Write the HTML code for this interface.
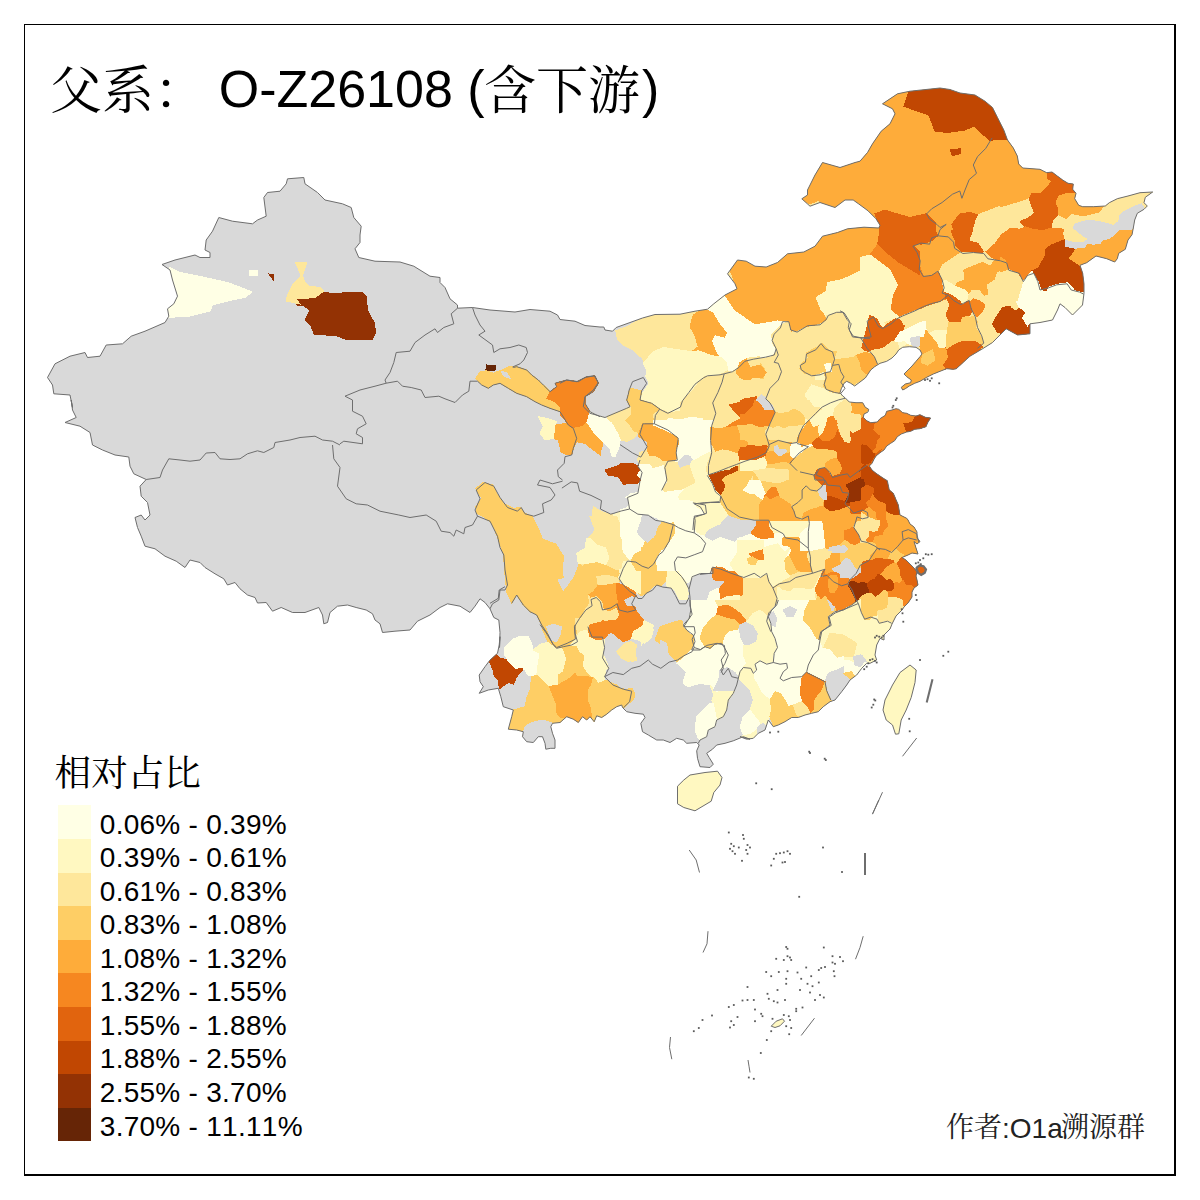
<!DOCTYPE html>
<html><head><meta charset="utf-8"><title>O-Z26108</title>
<style>
html,body{margin:0;padding:0;background:#fff;}
body{width:1200px;height:1200px;overflow:hidden;position:relative;font-family:"Liberation Sans",sans-serif;}
svg{position:absolute;left:0;top:0;}
text{font-family:"Liberation Sans",sans-serif;fill:#000;font-kerning:none;}
.c0{fill:#d9d9d9}.c1{fill:#ffffe5}.c2{fill:#fff8c1}.c3{fill:#fee79b}.c4{fill:#fece65}.c5{fill:#feac3a}
.c6{fill:#f68720}.c7{fill:#e1640e}.c8{fill:#c14702}.c9{fill:#933204}.c10{fill:#662506}
.s0{stroke:#d9d9d9}.s1{stroke:#ffffe5}.s2{stroke:#fff8c1}.s3{stroke:#fee79b}.s4{stroke:#fece65}.s5{stroke:#feac3a}.s6{stroke:#f68720}.s7{stroke:#e1640e}.s8{stroke:#c14702}.s9{stroke:#933204}.s10{stroke:#662506}
.b{fill:none;stroke:#6e6e6e;stroke-width:1;stroke-linejoin:round}
</style></head><body>
<svg width="1200" height="1200" viewBox="0 0 1200 1200">
<rect x="24" y="24" width="1" height="1152" fill="#000"/><rect x="24" y="24" width="1152" height="1" fill="#000"/><rect x="1174" y="24" width="2" height="1152" fill="#000"/><rect x="24" y="1174" width="1152" height="2" fill="#000"/>
<defs><clipPath id="cn">
<polygon points="47.5,377.5 55,363.8 70,356.2 85,352.5 87.5,357.5 100,356.2 106.2,345 122.5,343.8 131.2,336.2 145,331.2 165,322.5 168.8,316.2 167.5,308.8 173.8,303.8 177.5,296.2 172.5,280 170,270 162,264.5 175,260 195,255 200,257.5 210,257.5 210,252.5 205,250 206.2,240 212.5,231.2 218.8,217.5 232.5,221.2 252.5,223.8 257.5,220 266.2,216.2 263.8,197.5 267.5,192.5 280,191.2 286.2,183.8 287.5,178.8 303.8,177.5 305,183.8 317.5,192.5 325,200 342.5,203.8 351.2,207.5 353.8,217.5 361.2,226.2 360,235 360,242.5 355,248.8 358.8,257.5 375,261.2 400,262 413.8,266.2 430,276.2 440,277.5 440,282.5 445,287.5 450,298.8 457.5,305 457.5,308.2 472.5,307.5 490,310 515,312 530,309.5 550,311.2 557.5,315 560,319.5 575,321.2 585,325.5 600,327 603.8,327 605,330 612.5,331.2 616.2,327.5 642.5,318 655,314.5 680,314.2 695,311.2 707.5,309.2 713.8,303.8 725,295 737,288.8 735,283.8 727.5,273.8 737.5,260 746.2,261.2 755,266.2 766.2,267 777.5,262.5 787.5,253.8 803.8,252 815,246.2 822.5,236.2 837.5,232.5 847.5,228.8 864,227.2 878.8,228 880,225.2 876,218.8 868,210.8 858.8,204 853.2,200 845,200 835,207.5 820,202.5 810,206.2 801.8,198.8 807.5,195 807.5,190 815,175 822.5,162.5 840,167.5 855,162.5 860,161.2 867.5,152.5 872.5,143.8 881.2,131.2 890,123.8 895,113.8 892.5,108.8 882.5,103.8 897.5,93.8 910,91.2 940,88 950,89.5 960,93 975,95 985,101.2 992.5,107.5 997.5,117.5 1003.8,130 1007.5,140 1013.3,148 1017.3,156 1018.7,164 1022.7,168 1032,168.7 1040,169.3 1046.7,172.7 1052,172 1057.3,176 1062.7,180 1068,183.3 1073.3,184 1072.7,189.3 1076,193.3 1074.7,198.7 1078.7,205.3 1082.7,206.7 1093.3,206.7 1105.3,206 1109.3,202.7 1117.3,198.7 1128,196 1140,192.7 1152.7,192 1145.3,197.3 1144,202.7 1147.3,206 1144,209.3 1137.3,213.3 1134.7,220 1133.3,228 1132,234.7 1128,240 1125.3,249.3 1118.7,253.3 1117.3,258.7 1114.7,262 1106.7,258.7 1096,256 1086.7,262.7 1080,265.3 1082.7,273.3 1084,284 1084,293.3 1082.5,305 1072.5,315 1065,307.5 1060,303.8 1057.5,310 1052.5,320 1040,322.5 1030,323.8 1030,323.8 1030,333.8 1017.5,335 1006.2,328.8 1000,335 992.5,342.5 982.5,348.8 970,356.2 956.2,368.8 953.3,369.3 946.7,368.7 940,371.3 933.3,374 926.7,377.3 920,381.3 914.7,383.3 909.3,386 905.3,388.7 902.7,390 901.3,387.3 905.3,384 910.7,382.7 911.3,380 906.7,376.7 904,374 908,370 912,366 916,361.3 920,356.7 922,354 920,350 916,347.3 909.3,346.7 902.7,347.3 898.7,350 896,354 892,358 886.7,361.3 880,363.3 874.7,366.7 870.7,370 868,374 865.3,378 860,382 854.7,386 850.7,383.3 846.7,381.3 844,383.3 841.3,388.7 840,392.7 842.7,396 845.3,398 849.3,402 856,402.7 862.7,402.7 865.3,407.3 868.7,409.3 868,412 864,414 863.3,417.3 866.7,420.7 870.7,422.7 877.3,422 880,418.7 885.3,415.3 886.7,411.3 892,410 896,408.7 898.7,409.3 902.7,412.7 906.7,413.3 910.7,415.3 916,416 920,414.7 925.3,417.3 930.7,418 928,422 926,426.7 920,428.7 914.7,429.3 910.7,431.3 906.7,432 901.3,434 897.3,436.7 894.7,440.7 890.7,443.3 886.7,446 884,450 880,452.7 876,456 874,459.3 872,463.3 869.3,466 872,470 876,473.3 880,476 884,478.7 887.3,480.7 889.3,490 893.3,493.3 898.3,505 900,515 906.7,518.3 908,520 910,524 914,527 917,532 917,538 920,541.5 917,544 914,541.5 916,548 918,554 912,553 908,555 902,557.5 906,560 910,564 914,568 917,572 916,576 917,580 918,585 914,588 912,592 912,597 910,600 908,603 904,607 902,610 899,613 896,616 894,620 892,624 890,629 887,632 884,635 884,640 880,638.3 876.7,645 875,655 876.7,660 870,663.3 866.7,663.3 861.7,668.3 856.7,675 850,680 846.7,685 841.7,691.7 835,700 830,701.7 823.3,706.7 818.3,711.7 811.7,713.3 805,715 798.3,717.5 791.7,717.5 785,721.7 778.3,725 773.3,726.7 768.3,720 765,730 758.3,733.3 753.3,738.3 746.7,739.2 740,736.7 750,739.2 743.3,736.7 733.3,740.8 725,743.3 716.7,745 712.5,749.2 706.7,753.3 709.2,757.5 713.3,764.2 710,767.5 700,766.7 697.5,758.3 696.7,750.8 699.2,745 696.7,742.5 686.7,743.3 683.3,740 676.7,738.3 670,742.5 663.3,740 656.7,740 648.3,735 642.5,731.7 640.8,723.3 645,717.5 643.3,714.2 635,713.3 626.7,711.7 622.5,707.5 621.7,705 616.7,706.7 611.7,710 606.7,714.2 601.7,717.5 596.7,715.8 594.2,721.7 590,716.7 586.7,720 582.5,716.7 578.3,722.5 573.3,719.2 566.7,716.7 560,722.5 552.5,723.3 550.8,726.7 552.5,733.3 555,740 555,748.3 550.8,748.3 545.8,749.2 545,743.3 542.5,736.7 538.3,736.7 533.3,742.5 526.7,741.7 522.5,736.7 523.3,731.7 516.7,730 508.3,729.2 511.7,716.7 513.3,710 503.3,706.7 500.8,696.7 498.3,688.3 488.3,690 479.2,693.3 483.3,686.7 480,681.7 479.2,675 485,666.7 490,660 497.5,653.3 499.2,645 500,636.7 499.5,647.5 500,632.5 498.8,620 493.8,617.5 490,608.8 485,602.5 480,598.8 475,606.2 470,612.5 460,606.2 447.5,603.8 440,607.5 430,615 417.5,621.2 410,630 395,631.2 382.5,632.5 380,623.8 375,620 372.5,613.8 366.2,610 356.2,607.5 347.5,605 337.5,606.2 330,612.5 327.5,622.5 323.8,623.8 322.5,615 318.8,607.5 305,612.5 292.5,612.5 281.2,607.5 272.5,611.2 266.2,602.5 257.5,603 255,597.5 247.5,595 240,588.8 235,582.5 227.5,585 223.8,578.8 215,573.8 205,567.5 200,562.5 190,560 185,567.5 176.2,561.2 165,556.2 155,548.8 145,546.2 141.2,536.2 137.5,527.5 135,517.5 141.2,515 145,520 150,515 147.5,502.5 141.2,496.2 140,486.2 146.2,479.5 133.8,473.8 130,466.2 128.8,457 115,455 102.5,450 92.5,445 90,432.5 80,426.2 65,422.5 76.2,417.5 72.5,410 71.2,400 72.5,407.5 70,395 53.8,393.8 52.5,385"/>
<polygon points="910,665 916.2,670 915,682.5 911.2,697.5 906.2,710 901.2,720 898.8,733.8 895.5,734.2 892.5,725 886.2,720 883,710 885,700 892.5,685 900,672.5"/>
<polygon points="690,775 705,772.5 717.5,771.2 722,777.5 720,785 713.8,792.5 711.2,801.2 695,810.8 683.8,807.5 677.5,803.8 677.5,786.2 683.8,780"/>
</clipPath></defs>
<g shape-rendering="crispEdges">
<polygon class="c0" points="47.5,377.5 55,363.8 70,356.2 85,352.5 87.5,357.5 100,356.2 106.2,345 122.5,343.8 131.2,336.2 145,331.2 165,322.5 168.8,316.2 167.5,308.8 173.8,303.8 177.5,296.2 172.5,280 170,270 162,264.5 175,260 195,255 200,257.5 210,257.5 210,252.5 205,250 206.2,240 212.5,231.2 218.8,217.5 232.5,221.2 252.5,223.8 257.5,220 266.2,216.2 263.8,197.5 267.5,192.5 280,191.2 286.2,183.8 287.5,178.8 303.8,177.5 305,183.8 317.5,192.5 325,200 342.5,203.8 351.2,207.5 353.8,217.5 361.2,226.2 360,235 360,242.5 355,248.8 358.8,257.5 375,261.2 400,262 413.8,266.2 430,276.2 440,277.5 440,282.5 445,287.5 450,298.8 457.5,305 457.5,308.2 472.5,307.5 490,310 515,312 530,309.5 550,311.2 557.5,315 560,319.5 575,321.2 585,325.5 600,327 603.8,327 605,330 612.5,331.2 616.2,327.5 642.5,318 655,314.5 680,314.2 695,311.2 707.5,309.2 713.8,303.8 725,295 737,288.8 735,283.8 727.5,273.8 737.5,260 746.2,261.2 755,266.2 766.2,267 777.5,262.5 787.5,253.8 803.8,252 815,246.2 822.5,236.2 837.5,232.5 847.5,228.8 864,227.2 878.8,228 880,225.2 876,218.8 868,210.8 858.8,204 853.2,200 845,200 835,207.5 820,202.5 810,206.2 801.8,198.8 807.5,195 807.5,190 815,175 822.5,162.5 840,167.5 855,162.5 860,161.2 867.5,152.5 872.5,143.8 881.2,131.2 890,123.8 895,113.8 892.5,108.8 882.5,103.8 897.5,93.8 910,91.2 940,88 950,89.5 960,93 975,95 985,101.2 992.5,107.5 997.5,117.5 1003.8,130 1007.5,140 1013.3,148 1017.3,156 1018.7,164 1022.7,168 1032,168.7 1040,169.3 1046.7,172.7 1052,172 1057.3,176 1062.7,180 1068,183.3 1073.3,184 1072.7,189.3 1076,193.3 1074.7,198.7 1078.7,205.3 1082.7,206.7 1093.3,206.7 1105.3,206 1109.3,202.7 1117.3,198.7 1128,196 1140,192.7 1152.7,192 1145.3,197.3 1144,202.7 1147.3,206 1144,209.3 1137.3,213.3 1134.7,220 1133.3,228 1132,234.7 1128,240 1125.3,249.3 1118.7,253.3 1117.3,258.7 1114.7,262 1106.7,258.7 1096,256 1086.7,262.7 1080,265.3 1082.7,273.3 1084,284 1084,293.3 1082.5,305 1072.5,315 1065,307.5 1060,303.8 1057.5,310 1052.5,320 1040,322.5 1030,323.8 1030,323.8 1030,333.8 1017.5,335 1006.2,328.8 1000,335 992.5,342.5 982.5,348.8 970,356.2 956.2,368.8 953.3,369.3 946.7,368.7 940,371.3 933.3,374 926.7,377.3 920,381.3 914.7,383.3 909.3,386 905.3,388.7 902.7,390 901.3,387.3 905.3,384 910.7,382.7 911.3,380 906.7,376.7 904,374 908,370 912,366 916,361.3 920,356.7 922,354 920,350 916,347.3 909.3,346.7 902.7,347.3 898.7,350 896,354 892,358 886.7,361.3 880,363.3 874.7,366.7 870.7,370 868,374 865.3,378 860,382 854.7,386 850.7,383.3 846.7,381.3 844,383.3 841.3,388.7 840,392.7 842.7,396 845.3,398 849.3,402 856,402.7 862.7,402.7 865.3,407.3 868.7,409.3 868,412 864,414 863.3,417.3 866.7,420.7 870.7,422.7 877.3,422 880,418.7 885.3,415.3 886.7,411.3 892,410 896,408.7 898.7,409.3 902.7,412.7 906.7,413.3 910.7,415.3 916,416 920,414.7 925.3,417.3 930.7,418 928,422 926,426.7 920,428.7 914.7,429.3 910.7,431.3 906.7,432 901.3,434 897.3,436.7 894.7,440.7 890.7,443.3 886.7,446 884,450 880,452.7 876,456 874,459.3 872,463.3 869.3,466 872,470 876,473.3 880,476 884,478.7 887.3,480.7 889.3,490 893.3,493.3 898.3,505 900,515 906.7,518.3 908,520 910,524 914,527 917,532 917,538 920,541.5 917,544 914,541.5 916,548 918,554 912,553 908,555 902,557.5 906,560 910,564 914,568 917,572 916,576 917,580 918,585 914,588 912,592 912,597 910,600 908,603 904,607 902,610 899,613 896,616 894,620 892,624 890,629 887,632 884,635 884,640 880,638.3 876.7,645 875,655 876.7,660 870,663.3 866.7,663.3 861.7,668.3 856.7,675 850,680 846.7,685 841.7,691.7 835,700 830,701.7 823.3,706.7 818.3,711.7 811.7,713.3 805,715 798.3,717.5 791.7,717.5 785,721.7 778.3,725 773.3,726.7 768.3,720 765,730 758.3,733.3 753.3,738.3 746.7,739.2 740,736.7 750,739.2 743.3,736.7 733.3,740.8 725,743.3 716.7,745 712.5,749.2 706.7,753.3 709.2,757.5 713.3,764.2 710,767.5 700,766.7 697.5,758.3 696.7,750.8 699.2,745 696.7,742.5 686.7,743.3 683.3,740 676.7,738.3 670,742.5 663.3,740 656.7,740 648.3,735 642.5,731.7 640.8,723.3 645,717.5 643.3,714.2 635,713.3 626.7,711.7 622.5,707.5 621.7,705 616.7,706.7 611.7,710 606.7,714.2 601.7,717.5 596.7,715.8 594.2,721.7 590,716.7 586.7,720 582.5,716.7 578.3,722.5 573.3,719.2 566.7,716.7 560,722.5 552.5,723.3 550.8,726.7 552.5,733.3 555,740 555,748.3 550.8,748.3 545.8,749.2 545,743.3 542.5,736.7 538.3,736.7 533.3,742.5 526.7,741.7 522.5,736.7 523.3,731.7 516.7,730 508.3,729.2 511.7,716.7 513.3,710 503.3,706.7 500.8,696.7 498.3,688.3 488.3,690 479.2,693.3 483.3,686.7 480,681.7 479.2,675 485,666.7 490,660 497.5,653.3 499.2,645 500,636.7 499.5,647.5 500,632.5 498.8,620 493.8,617.5 490,608.8 485,602.5 480,598.8 475,606.2 470,612.5 460,606.2 447.5,603.8 440,607.5 430,615 417.5,621.2 410,630 395,631.2 382.5,632.5 380,623.8 375,620 372.5,613.8 366.2,610 356.2,607.5 347.5,605 337.5,606.2 330,612.5 327.5,622.5 323.8,623.8 322.5,615 318.8,607.5 305,612.5 292.5,612.5 281.2,607.5 272.5,611.2 266.2,602.5 257.5,603 255,597.5 247.5,595 240,588.8 235,582.5 227.5,585 223.8,578.8 215,573.8 205,567.5 200,562.5 190,560 185,567.5 176.2,561.2 165,556.2 155,548.8 145,546.2 141.2,536.2 137.5,527.5 135,517.5 141.2,515 145,520 150,515 147.5,502.5 141.2,496.2 140,486.2 146.2,479.5 133.8,473.8 130,466.2 128.8,457 115,455 102.5,450 92.5,445 90,432.5 80,426.2 65,422.5 76.2,417.5 72.5,410 71.2,400 72.5,407.5 70,395 53.8,393.8 52.5,385"/>
<polygon class="c0" points="910,665 916.2,670 915,682.5 911.2,697.5 906.2,710 901.2,720 898.8,733.8 895.5,734.2 892.5,725 886.2,720 883,710 885,700 892.5,685 900,672.5"/>
<polygon class="c0" points="690,775 705,772.5 717.5,771.2 722,777.5 720,785 713.8,792.5 711.2,801.2 695,810.8 683.8,807.5 677.5,803.8 677.5,786.2 683.8,780"/>
<g clip-path="url(#cn)">
<polygon class="c3 s3" points="622,335 700,310 740,285 720,270 760,255 820,240 795,200 830,150 900,80 1000,85 1170,185 1095,335 965,365 970,445 905,485 930,545 925,600 885,640 860,640 840,600 800,580 780,600 760,560 700,560 690,520 660,500 650,460 645,420 652,380 642,358"/>
<polygon class="c6 s6" points="855,425 965,425 965,470 900,480 890,505 855,505"/>
<polygon class="c8 s8" points="880,490 900,490 905,520 885,520"/>
<polygon class="c6 s6" points="890,520 930,520 930,640 880,640"/>
<polygon class="c5 s5" points="895,375 965,345 965,372 895,400"/>
<polygon class="c9 s9" points="306,297.5 325,292.5 337.5,294 344,292.5 362.5,292.5 366,296 367.5,310 374,322.5 376,332.5 372.5,339 345,339 337.5,336 314,334 311,326 305,320 310,310 304,306 297,305 296,299"/>
<polygon class="c3 s3" points="295,262 307,262 302.5,276 305,282.5 309,286 320,287.5 324,291 315,297.5 296,299 300,304 286,301 287.5,295 292.5,285 300,277.5 300,272.5"/>
<polygon class="c1 s1" points="170,267.5 180,272.5 205,277.5 227.5,282.5 245,289 252,292 245,297.5 227.5,301 212.5,305 210,311 190,316 160,318 160,300 165,280"/>
<polygon class="c1 s1" points="249.5,270 257.5,270 257.5,275.5 249.5,275.5"/>
<polygon class="c9 s9" points="269,274 273,274.5 273,279.5"/>
<polygon class="c10 s10" points="486,365 495.5,365 495,370 486,370"/>
<polygon class="c3 s3" points="615.8,330.8 626.7,326.7 640,319.2 655,315 676.7,313.3 693.3,311.7 690,326.7 695,335.8 698.3,346.7 691.7,351.7 680,350 663.3,347.5 653.3,351.7 648.3,357.5 640,356.7 633.3,350 623.3,345 617.5,339.2"/>
<polygon class="c5 s5" points="693.3,315 706.7,306.7 713.3,311.7 720,323.3 727.5,332.5 725,338.3 715,335.8 712.5,340.8 716.7,351.7 720.8,357.5 710,355 698.3,350.8 691.7,351.7 698.3,346.7 695,335.8 690,326.7"/>
<polygon class="c1 s1" points="706.7,309.2 718.3,293.3 733.3,300 743.3,313.3 760,323.3 760,356.7 746.7,358.3 739.2,366.7 731.7,372.5 727.5,370.8 726.7,363.3 720.8,357.5 716.7,351.7 712.5,340.8 715,335.8 725,338.3 727.5,332.5 720,323.3 713.3,311.7"/>
<polygon class="c2 s2" points="648.3,357.5 653.3,351.7 663.3,347.5 680,350 691.7,351.7 698.3,350.8 710,355 720.8,357.5 726.7,363.3 727.5,370.8 723.3,373.3 716.7,375.8 705,376.7 698.3,383.3 691.7,391.7 683.3,400 680.8,406.7 680,411.7 668.3,412.5 660,409.2 651.7,403.3 640,400 643.3,391.7 649.2,383.3 645.8,376.7 646.7,370 643.3,363.3"/>
<polygon class="c4 s4" points="629.2,390 631.7,388.3 638.3,390 641.7,390.8 640,400 651.7,403.3 660,409.2 653.3,415 653.3,423.3 642.5,424.2 641.7,429.2 637.5,433.3 633.3,431.7 630,426.7 626.7,423.3 624.2,420 630,415 630,406.7 626.7,400 628.3,394.2"/>
<polygon class="c3 s3" points="606.7,416.7 626.7,408.3 630,406.7 630,415 624.2,420 626.7,423.3 630,426.7 633.3,431.7 637.5,433.3 635,438.3 626.7,441.7 621.7,443.3 617.5,433.3 611.7,423.3"/>
<polygon class="c3 s3" points="638.3,460.8 640,453.3 646.7,450 650.8,455.8 661.7,458.3 662.5,466.7 653.3,465 640,464.2"/>
<polygon class="c5 s5" points="642.5,424.2 653.3,423.3 660,428.3 670,433.3 678.3,438.3 679.2,445 675.8,450 677.5,460 668.3,460.8 661.7,458.3 650.8,455.8 646.7,450 646.7,443.3 640,440 638.3,435 641.7,429.2"/>
<polygon class="c3 s3" points="660,409.2 668.3,412.5 680,411.7 680.8,406.7 683.3,400 691.7,391.7 698.3,383.3 705,376.7 716.7,375.8 723.3,373.3 720,383.3 717.5,393.3 711.7,400 713.3,408.3 716.7,415 712.5,421.7 710,426.7 705,423.3 696.7,416.7 686.7,418.3 676.7,420 670,418.3 663.3,421.7 660,425 655,423.3 653.3,415"/>
<polygon class="c1 s1" points="660,425 663.3,421.7 670,418.3 676.7,420 686.7,418.3 696.7,416.7 705,423.3 710,426.7 711.7,438.3 712.5,450 710,460 708.3,466.7 701.7,460 691.7,456.7 683.3,455 677.5,460 675.8,450 679.2,445 678.3,438.3 670,433.3"/>
<polygon class="c3 s3" points="723.3,373.3 727.5,370.8 731.7,372.5 739.2,366.7 746.7,358.3 760,356.7 760,396.7 743.3,400 730,405 740,413.3 746.7,416.7 735,425 728.3,429.2 716.7,428.3 710.8,430 710,426.7 712.5,421.7 716.7,415 713.3,408.3 711.7,400 717.5,393.3 720,383.3"/>
<polygon class="c7 s7" points="730,405 743.3,400 758.3,397.5 755,406.7 750,408.3 748.3,416.7 740,413.3"/>
<polygon class="c5 s5" points="710.8,430 716.7,428.3 728.3,429.2 735,425 746.7,416.7 738.3,428.3 741.7,436.7 748.3,441.7 746.7,446.7 738.3,450 736.7,455 726.7,450 718.3,451.7 712.5,450 711.7,438.3"/>
<polygon class="c6 s6" points="735,425 746.7,416.7 748.3,416.7 750,408.3 755,406.7 760,406.7 760,426.7 748.3,425 738.3,428.3"/>
<polygon class="c3 s3" points="712.5,450 718.3,451.7 726.7,450 736.7,455 739.2,461.7 736.7,466.7 725,470.8 710,474.2 706.7,473.3 708.3,466.7 710,460"/>
<polygon class="c8 s8" points="708.3,475 725,470.8 736.7,466.7 737.5,471.7 726.7,477.5 723.3,483.3 725.8,488.3 721.7,495.8 716.7,491.7 712.5,488.3 711.7,481.7"/>
<polygon class="c7 s7" points="738.3,450 746.7,446.7 760,446.7 760,460 746.7,462.5 739.2,461.7 736.7,455"/>
<polygon class="c4 s4" points="738.3,428.3 748.3,425 760,426.7 760,446.7 746.7,446.7 748.3,441.7 741.7,436.7"/>
<polygon class="c6 s6" points="560,383.3 566.7,380 578.3,381.7 585,377.5 594.2,375.8 598.3,382.5 593.3,390 585,396.7 583.3,406.7 590,413.3 586.7,425 573.3,427.5 568.3,423.3 560,415"/>
<polygon class="c5 s5" points="560,424.2 568.3,423.3 573.3,427.5 586.7,425 593.3,433.3 603.3,441.7 600,454.2 593.3,450 585,443.3 576.7,441.7 571.7,450 566.7,455 560,451.7"/>
<polygon class="c1 s1" points="590,413.3 605,417.5 611.7,423.3 617.5,433.3 621.7,443.3 619.2,446.7 615,456.7 611.7,455.8 610,448.3 603.3,441.7 593.3,433.3 586.7,425"/>
<polygon class="c8 s8" points="605,470 615,466.7 623.3,463.3 633.3,464.2 640,466.7 638.3,473.3 641.7,479.2 638.3,483.3 623.3,484.2 618.3,476.7 608.3,475"/>
<polygon class="c1 s1" points="640,466.7 653.3,465 662.5,466.7 666.7,470 665,483.3 661.7,491.7 663.3,500 640,500 638.3,483.3 641.7,479.2 638.3,473.3"/>
<polygon class="c3 s3" points="666.7,470 677.5,460 683.3,455 691.7,456.7 701.7,460 708.3,466.7 706.7,473.3 708.3,475 711.7,481.7 712.5,488.3 716.7,491.7 721.7,495.8 720,500 663.3,500 661.7,491.7 665,483.3"/>
<polygon class="c0 s0" points="676.7,464.2 683.3,456.7 691.7,457.5 688.3,465 681.7,469.2"/>
<polygon class="c5 s5" points="760,300 816.7,300 821.7,306.7 825,316.7 823.3,321.7 815,325 808.3,325 803.3,328.3 796.7,331.7 790.8,330 790,320.8 783.3,319.2 775,321.7 760,320.8"/>
<polygon class="c1 s1" points="760,320.8 775,321.7 783.3,319.2 786.7,321.7 778.3,327.5 771.7,335 772.5,343.3 776.7,350 770,356.7 760,357.5"/>
<polygon class="c2 s2" points="816.7,300 890,300 893.3,308.3 898.3,316.7 891.7,320 883.3,328.3 876.7,321.7 873.3,315.8 868.3,318.3 869.2,330 866.7,338.3 853.3,336.7 848.3,330 851.7,323.3 846.7,316.7 841.7,311.7 835,311.7 826.7,315.8 825,316.7 821.7,306.7"/>
<polygon class="c6 s6" points="890,300 948.3,300 943.3,303.3 935,306.7 923.3,306.7 916.7,311.7 906.7,316.7 898.3,316.7 893.3,308.3"/>
<polygon class="c3 s3" points="786.7,321.7 790,320.8 790.8,330 796.7,331.7 803.3,328.3 808.3,325 815,325 823.3,321.7 825,316.7 826.7,315.8 835,311.7 841.7,311.7 846.7,316.7 851.7,323.3 848.3,330 853.3,336.7 866.7,338.3 861.7,347.5 866.7,351.7 856.7,355 853.3,357.5 840,359.2 833.3,360 836.7,351.7 831.7,351.7 826.7,348.3 821.7,343.3 815,348.3 806.7,352.5 808.3,358.3 801.7,363.3 800,368.3 805,373.3 811.7,375 823.3,372.5 825,380 823.3,386.7 826.7,391.7 833.3,393.3 840,390.8 845,398.3 838.3,403.3 830,406.7 823.3,408.3 816.7,415 808.3,420 803.3,426.7 798.3,431.7 796.7,441.7 783.3,443.3 770,440 765,433.3 771.7,426.7 776.7,413.3 771.7,406.7 766.7,396.7 771.7,388.3 776.7,383.3 783.3,378.3 781.7,366.7 773.3,363.3 776.7,356.7 776.7,350 772.5,343.3 771.7,335 778.3,327.5"/>
<polygon class="c4 s4" points="806.7,352.5 815,348.3 821.7,343.3 826.7,348.3 831.7,351.7 836.7,351.7 833.3,360 833.3,366.7 830,371.7 825,371.7 823.3,372.5 811.7,375 805,373.3 800,368.3 801.7,363.3 808.3,358.3"/>
<polygon class="c4 s4" points="833.3,360 840,359.2 838.3,363.3 841.7,366.7 840,371.7 845,376.7 843.3,381.7 846.7,382.5 843.3,386.7 840,390.8 833.3,393.3 826.7,391.7 823.3,386.7 825,380 823.3,372.5 825,371.7 830,371.7 833.3,366.7"/>
<polygon class="c1 s1" points="824.7,364.2 830.8,363.3 831.3,371.7 826.7,372"/>
<polygon class="c4 s4" points="840,359.2 853.3,357.5 856.7,355 860,361.7 861.7,370 868.3,375 863.3,380 855,383.3 853.3,385.8 846.7,382.5 843.3,381.7 845,376.7 840,371.7 841.7,366.7 838.3,363.3"/>
<polygon class="c5 s5" points="856.7,355 866.7,351.7 873.3,353.3 876.7,360 878.3,365 871.7,368.3 868.3,375 861.7,370 860,361.7"/>
<polygon class="c2 s2" points="815,376.7 823.3,372.5 825,380 823.3,386.7 826.7,391.7 833.3,393.3 840,390.8 845,398.3 838.3,403.3 830,406.7 823.3,408.3 816.7,415 811.7,406.7 805,400 806.7,393.3 810,386.7 815,383.3"/>
<polygon class="c7 s7" points="868.3,318.3 873.3,315.8 876.7,321.7 883.3,328.3 891.7,320 898.3,316.7 905,325 896.7,333.3 891.7,340 881.7,343.3 875,348.3 866.7,351.7 861.7,347.5 866.7,338.3 869.2,330"/>
<polygon class="c3 s3" points="866.7,351.7 875,348.3 881.7,343.3 891.7,340 898.3,341.7 900,348.3 893.3,355 886.7,360 878.3,365 876.7,360 873.3,353.3"/>
<polygon class="c2 s2" points="891.7,340 896.7,333.3 905,325 910,323.3 925,321.7 926.7,328.3 920,335 911.7,338.3 906.7,343.3 900,348.3 898.3,341.7"/>
<polygon class="c0 s0" points="910,338.3 920,335 925,341.7 920,346.7 913.3,345"/>
<polygon class="c3 s3" points="898.3,316.7 906.7,316.7 916.7,311.7 923.3,306.7 935,306.7 943.3,303.3 945,313.3 948.3,320 936.7,321.7 925,321.7 910,323.3 905,325"/>
<polygon class="c3 s3" points="925,321.7 948.3,320 950,330 943.3,333.3 941.7,343.3 936.7,345 933.3,338.3 926.7,333.3"/>
<polygon class="c5 s5" points="920,346.7 925,341.7 926.7,333.3 933.3,338.3 936.7,345 941.7,343.3 946.7,348.3 948.3,356.7 943.3,365 931.7,368.3 921.7,375 913.3,383.3 906.7,390 901.7,388.3 910,378.3 905,373.3 913.3,366.7 920,356.7 921.7,350"/>
<polygon class="c7 s7" points="943.3,303.3 960,300 960,321.7 948.3,320 945,313.3"/>
<polygon class="c4 s4" points="948.3,320 960,321.7 960,346.7 950,345 946.7,346.7 950,333.3"/>
<polygon class="c7 s7" points="946.7,346.7 960,346.7 960,365 943.3,365 948.3,356.7"/>
<polygon class="c2 s2" points="815,416.7 823.3,409.2 833.3,406.7 831.7,415 826.7,416.7 823.3,426.7 818.3,433.3 810,431.7 800,431.7 808.3,420"/>
<polygon class="c5 s5" points="800,431.7 810,431.7 818.3,433.3 816.7,441.7 810,445 801.7,448.3 797.5,441.7"/>
<polygon class="c3 s3" points="833.3,406.7 844.2,400 850,403.3 846.7,413.3 848.3,416.7 841.7,426.7 838.3,416.7 831.7,415"/>
<polygon class="c5 s5" points="850,403.3 860,403.3 866.7,408.3 863.3,415 860,420 853.3,423.3 848.3,416.7 846.7,413.3"/>
<polygon class="c6 s6" points="826.7,416.7 831.7,415 838.3,416.7 841.7,426.7 845,438.3 838.3,441.7 830,438.3 823.3,441.7 818.3,433.3 823.3,426.7"/>
<polygon class="c7 s7" points="848.3,416.7 853.3,423.3 860,420 863.3,415 873.3,423.3 876.7,430 880,438.3 876.7,450 868.3,460 860,465 853.3,473.3 846.7,476.7 840,466.7 836.7,456.7 838.3,450 846.7,446.7 853.3,446.7 850,433.3 845,426.7"/>
<polygon class="c3 s3" points="838.3,416.7 848.3,416.7 845,426.7 850,433.3 853.3,446.7 846.7,446.7 843.3,436.7 841.7,426.7"/>
<polygon class="c6 s6" points="873.3,423.3 881.7,416.7 891.7,410 898.3,408.3 906.7,415 916.7,415 905,425 898.3,433.3 890,440 883.3,446.7 880,438.3 876.7,430"/>
<polygon class="c8 s8" points="903.3,423.3 916.7,415 930,417.5 926.7,428.3 918.3,428.3 910,426.7"/>
<polygon class="c7 s7" points="880,438.3 883.3,446.7 876.7,455 870,464.2 868.3,460 876.7,450"/>
<polygon class="c8 s8" points="858.3,450 863.3,445 870,450 868.3,460 860,465"/>
<polygon class="c7 s7" points="813.3,441.7 823.3,441.7 830,438.3 838.3,441.7 838.3,450 836.7,456.7 830,453.3 821.7,450 815,448.3"/>
<polygon class="c4 s4" points="790,465 801.7,448.3 810,445 815,448.3 821.7,450 830,453.3 836.7,456.7 840,466.7 833.3,475 826.7,470 818.3,468.3 815,475 801.7,475 796.7,470"/>
<polygon class="c7 s7" points="840,466.7 846.7,476.7 853.3,473.3 860,465 868.3,465 861.7,475 853.3,480 846.7,481.7 838.3,476.7 833.3,475"/>
<polygon class="c7 s7" points="816.7,470 826.7,470 833.3,475 838.3,476.7 831.7,483.3 825,480 818.3,478.3"/>
<polygon class="c8 s8" points="853.3,480 861.7,475 868.3,465 873.3,473.3 883.3,480 891.7,500 866.7,500 863.3,483.3"/>
<polygon class="c7 s7" points="815,475 818.3,478.3 825,480 831.7,483.3 838.3,476.7 846.7,481.7 853.3,480 863.3,483.3 850,485 846.7,500 826.7,500 823.3,486.7"/>
<polygon class="c9 s9" points="846.7,485 863.3,480 866.7,483.3 863.3,490 856.7,500 848.3,500"/>
<polygon class="c4 s4" points="776.7,413.3 783.3,415 796.7,413.3 805,416.7 808.3,420 803.3,426.7 798.3,431.7 796.7,441.7 783.3,443.3 770,440 765,433.3 771.7,426.7"/>
<polygon class="c4 s4" points="765,433.3 770,440 783.3,443.3 796.7,441.7 799.2,446.7 790,465 780,466.7 770,468.3 760,466.7 760,456.7 766.7,450"/>
<polygon class="c0 s0" points="775,446.7 783.3,445 785,451.7 778.3,455"/>
<polygon class="c1 s1" points="790.8,443.3 798.3,442.5 800,450 795.8,458.3 790.8,456.7"/>
<polygon class="c6 s6" points="760,406.7 771.7,406.7 776.7,413.3 771.7,426.7 765,433.3 760,431.7"/>
<polygon class="c0 s0" points="760,395 766.7,396.7 771.7,406.7 760,406.7"/>
<polygon class="c4 s4" points="760,363.3 765,370 763.3,378.3 760,378.3"/>
<polygon class="c5 s5" points="725,295 737,288.8 730,270 737.5,255 755,262.5 777.5,260 787.5,251.2 803.8,249.5 815,243.8 822.5,233.8 847.5,226.2 865,223.8 880,226.2 905,210 880,185 845,197.5 835,205 820,200 810,203.8 800,198.8 805,190 815,170 822.5,160 905,135 930,210 930,265 880,245 872.5,252.5 867.5,258.8 862.5,270 850,276.2 840,280 827.5,282.5 826.2,291.2 816.2,297.5 821.2,310 826.2,320 815,325 800,327.5 791.2,331.2 788.8,321.2 777.5,320 755,323.8 735,310"/>
<polygon class="c2 s2" points="867.5,258.8 880,260 900,300 895,320 870,317.5 862.5,335 852.5,336.2 848.8,322.5 843.8,312.5 837.5,311.2 826.2,315 821.2,310 816.2,297.5 826.2,291.2 827.5,282.5 840,280 850,276.2 862.5,270"/>
<polygon class="c5 s5" points="800,150 810,100 900,70 1010,90 1030,165 960,225 880,265 835,240"/>
<polygon class="c5 s5" points="740,362.5 746.2,358.8 750,367.5 760,365 766.2,372.5 762.5,377.5 752.5,377.5 747.5,381.2 740,377.5 736.2,372.5"/>
<polygon class="c5 s5" points="860,161.2 867.5,152.5 872.5,143.8 881.2,131.2 890,123.8 895,113.8 892.5,108.8 882.5,103.8 897.5,93.8 910,91.2 903.8,106.2 917.5,111.2 928.8,115 935,131.2 947.5,132.5 965,130 973.8,126.2 985,136.2 990,141.2 982.5,150 976.2,161.2 977.5,175 968.8,180 963.8,197.5 960,192.5 942.5,202.5 926.2,213.8 910,217.5 892.5,212.5 885,210 875,213.8 860,205"/>
<polygon class="c8 s8" points="910,88.8 940,85.5 950,87 960,90.5 975,92.5 987.5,98.8 995,107.5 1000,117.5 1006.2,130 1010,140 990,141.2 985,136.2 973.8,126.2 965,130 947.5,132.5 935,131.2 928.8,115 917.5,111.2 903.8,106.2"/>
<polygon class="c8 s8" points="950,150 960,148.8 960,153.8 952.5,155.5"/>
<polygon class="c5 s5" points="990,141.2 1010,140 1017.5,150 1021.2,161.2 1030,166.2 1045,168.8 1052.5,180 1045,187.5 1035,193.8 1030,200 1022.5,198.8 1010,205 1000,206.2 977.5,215 970,212.5 960,213.8 945,223.8 935,222.5 926.2,213.8 942.5,202.5 960,192.5 963.8,197.5 968.8,180 977.5,175 976.2,161.2 982.5,150"/>
<polygon class="c7 s7" points="1045,168.8 1057.5,172.5 1075,181.2 1077.5,192.5 1065,195 1057.5,200 1057.5,212.5 1055,222.5 1045,230 1032.5,228.8 1020,222.5 1030,217.5 1035,210 1030,200 1035,193.8 1045,187.5 1052.5,180"/>
<polygon class="c5 s5" points="1057.5,200 1065,195 1077.5,192.5 1080,203.8 1100,203.8 1095,212.5 1080,215 1070,217.5 1060,220 1055,222.5 1057.5,212.5"/>
<polygon class="c3 s3" points="1080,203.8 1100,203.8 1110,198.8 1125,195 1140,191.2 1155,190 1147.5,200 1150,206.2 1142.5,215 1137.5,225 1133.8,232.5 1120,230 1107.5,240 1097.5,242.5 1085,245 1075,248.8 1065,245 1062.5,235 1055,222.5 1060,220 1070,217.5 1080,215 1095,212.5"/>
<polygon class="c0 s0" points="1075,225 1085,222.5 1100,222.5 1120,215 1135,210 1142.5,210 1137.5,220 1132.5,230 1120,230 1107.5,240 1097.5,242.5 1085,245 1075,248.8 1065,245 1063.8,240 1072.5,237.5"/>
<polygon class="c5 s5" points="1067.5,255 1075,248.8 1085,245 1097.5,242.5 1107.5,240 1120,230 1133.8,232.5 1127.5,245 1120,253.8 1117.5,263.8 1100,260 1090,265 1080,267.5 1075,260"/>
<polygon class="c8 s8" points="1032.5,270 1045,262.5 1046.2,250 1057.5,242.5 1063.8,242.5 1067.5,255 1075,260 1080,265 1086.2,277.5 1087.5,293.8 1075,290 1067.5,282.5 1057.5,285 1047.5,287.5 1042.5,292.5 1037.5,280"/>
<polygon class="c6 s6" points="985,255 992.5,245 1002.5,232.5 1020,230 1032.5,228.8 1045,230 1055,222.5 1062.5,235 1063.8,242.5 1057.5,242.5 1046.2,250 1045,262.5 1032.5,270 1025,280 1017.5,270 1007.5,267.5 1000,257.5 992.5,257.5"/>
<polygon class="c3 s3" points="970,237.5 975,220 977.5,215 1000,206.2 1010,205 1022.5,198.8 1030,200 1035,210 1030,217.5 1020,222.5 1020,230 1002.5,232.5 992.5,245 985,250 982.5,242.5"/>
<polygon class="c7 s7" points="951.2,225 960,213.8 970,212.5 977.5,215 975,220 970,237.5 982.5,242.5 985,250 977.5,252.5 965,250 955,240"/>
<polygon class="c5 s5" points="912.5,245 926.2,242.5 935,237.5 935,230 945,223.8 951.2,225 955,240 965,250 957.5,255 947.5,262.5 940,270 927.5,277.5 922.5,277.5 920,265 920,252.5"/>
<polygon class="c7 s7" points="875,213.8 885,210 892.5,212.5 910,217.5 926.2,213.8 935,222.5 935,230 935,237.5 926.2,242.5 912.5,245 920,252.5 920,265 922.5,277.5 910,270 897.5,262.5 885,252.5 877.5,245 880,230"/>
<polygon class="c6 s6" points="870,255 877.5,245 885,252.5 897.5,262.5 910,270 922.5,277.5 927.5,277.5 940,270 942.5,282.5 945,292.5 942.5,302.5 925,307.5 915,312.5 900,317.5 890,310 892.5,295 897.5,285 890,270"/>
<polygon class="c2 s2" points="860,257.5 870,255 890,270 897.5,285 892.5,295 890,310 900,317.5 885,322.5 875,320 870,315 860,320"/>
<polygon class="c3 s3" points="940,270 947.5,262.5 957.5,255 965,250 977.5,252.5 985,255 992.5,257.5 1000,257.5 997.5,270 987.5,277.5 990,287.5 982.5,295 970,290 965,300 955,290 945,292.5 942.5,282.5"/>
<polygon class="c5 s5" points="965,270 977.5,262.5 992.5,265 997.5,270 987.5,277.5 977.5,282.5 967.5,280"/>
<polygon class="c2 s2" points="942.5,282.5 955,285 965,300 960,305 947.5,295"/>
<polygon class="c3 s3" points="987.5,277.5 997.5,270 1007.5,267.5 1017.5,270 1025,280 1020,290 1017.5,300 1010,307.5 1000,305 990,302.5 982.5,295 990,287.5"/>
<polygon class="c1 s1" points="1017.5,300 1020,290 1025,280 1032.5,270 1037.5,280 1042.5,292.5 1047.5,287.5 1057.5,285 1067.5,282.5 1075,290 1087.5,293.8 1085,305 1072.5,317.5 1065,310 1060,306.2 1057.5,310 1052.5,322.5 1040,325 1030,326.2 1022.5,310 1015,307.5"/>
<polygon class="c8 s8" points="992.5,322.5 1000,317.5 1005,307.5 1010,307.5 1015,313.8 1022.5,310 1026.2,313.8 1022.5,320 1030,323.8 1032.5,337.5 1022.5,337.5 1010,331.2 1000,337.5"/>
<polygon class="c3 s3" points="975,320 982.5,310 982.5,295 990,302.5 1000,305 1010,307.5 1005,307.5 1000,317.5 992.5,322.5 1000,337.5 995,342.5 985,346.2 980,332.5"/>
<polygon class="c7 s7" points="945,292.5 955,290 965,300 970,290 972.5,305 970,310 965,320 957.5,322.5 947.5,317.5 945,307.5"/>
<polygon class="c6 s6" points="970,290 982.5,295 982.5,310 975,320 965,320 970,310 972.5,305"/>
<polygon class="c4 s4" points="947.5,320 957.5,322.5 965,320 975,320 980,332.5 985,346.2 980,350 970,355 960,347.5 947.5,350 945,335"/>
<polygon class="c7 s7" points="947.5,350 960,347.5 970,355 960,365 952.5,372.5 945,370"/>
<polygon class="c3 s3" points="900,317.5 915,312.5 925,307.5 942.5,302.5 945,307.5 947.5,317.5 945,335 947.5,350 935,352.5 925,345 917.5,342.5 910,345 902.5,335 890,340 885,322.5"/>
<polygon class="c1 s1" points="897.5,335 922.5,322.5 927.5,335 910,345"/>
<polygon class="c0 s0" points="910,338.8 921.2,336.2 922.5,345 913.8,347.5"/>
<polygon class="c7 s7" points="862.5,345 870,315 875,320 885,335 900,320 903.8,325 892.5,340 882.5,347.5 867.5,350"/>
<polygon class="c6 s6" points="900,296.7 945,296.7 945,303.3 933.3,306.7 916.7,310 900,316.7"/>
<polygon class="c3 s3" points="900,316.7 916.7,310 933.3,306.7 945,303.3 947.5,308.3 944.2,315 950,321.7 948.3,333.3 938.3,330 926.7,333.3 921.7,321.7 905,330 900,330"/>
<polygon class="c1 s1" points="900,330 905,330 921.7,321.7 926.7,326.7 926.7,333.3 921.7,335.8 910,338.3 900,341.7 895,341.7 895,330"/>
<polygon class="c0 s0" points="910,338.3 921.7,335.8 924.2,343.3 916.7,346.7 911.7,344.2"/>
<polygon class="c2 s2" points="926.7,333.3 938.3,330 948.3,333.3 948.3,343.3 945,348.3 938.3,349.2 936.7,341.7 928.3,338.3"/>
<polygon class="c7 s7" points="945,296.7 958.3,296.7 968.3,303.3 973.3,316.7 961.7,321.7 950,321.7 944.2,315 947.5,308.3"/>
<polygon class="c6 s6" points="968.3,296.7 983.3,296.7 985,306.7 980,315 973.3,311.7"/>
<polygon class="c4 s4" points="950,321.7 961.7,321.7 973.3,316.7 978.3,321.7 985,340 981.7,344.2 970,340.8 955,342.5 945,348.3 948.3,343.3 948.3,333.3"/>
<polygon class="c7 s7" points="945,348.3 955,342.5 970,340.8 981.7,344.2 983.3,346.7 966.7,357.5 957.5,369.2 943.3,370 946.7,356.7"/>
<polygon class="c3 s3" points="983.3,296.7 1015,296.7 1020,306.7 1008.3,307.5 1000,315 993.3,325 1000,333.3 990,345 983.3,347.5 985,340 978.3,321.7 980,315 985,306.7"/>
<polygon class="c8 s8" points="992.5,325 1000,315 1005,307.5 1015,309.2 1021.7,307.5 1025.8,312.5 1023.3,316.7 1028.3,325 1032.5,330.8 1030,336.7 1016.7,335.8 1010,334.2 1005,327.5 1000,332.5"/>
<polygon class="c1 s1" points="1015,296.7 1086.7,296.7 1080,305 1074.2,315.8 1066.7,309.2 1060,304.2 1057.5,314.2 1048.3,318.3 1043.3,323.3 1030,324.2 1025.8,312.5 1021.7,307.5 1020,306.7"/>
<polygon class="c5 s5" points="921.7,333.3 928.3,338.3 936.7,341.7 938.3,349.2 945,348.3 946.7,356.7 943.3,370 933.3,374.2 916.7,384.2 903.3,390.8 900,387.5 910,377.5 903.3,373.3 920,357.5 922.5,353.3 924.2,343.3"/>
<polygon class="c4 s4" points="921.7,355 933.3,350 935,360 926.7,364.2 921.7,361.7"/>
<polygon class="c7 s7" points="900,325 904.2,325.8 903.3,330 900,330.8"/>
<polygon class="c6 s6" points="896.7,411.7 906.7,412.5 918.3,414.2 913.3,421.7 903.3,424.2 906.7,431.7 896.7,435"/>
<polygon class="c8 s8" points="903.3,424.2 913.3,421.7 918.3,414.2 930.8,416.7 927.5,429.2 916.7,430 906.7,431.7"/>
<polygon class="c1 s1" points="628.3,496.7 638.3,495 640,480 663.3,480 661.7,490 676.7,493.3 686.7,490 693.3,503.3 700,508.3 705,513.3 696.7,515 693.3,521.7 695,533.3 688.3,531.7 675,523.3 666.7,523.3 658.3,521.7 650,515 641.7,513.3 630,510"/>
<polygon class="c3 s3" points="661.7,480 696.7,480 693.3,486.7 676.7,493.3 661.7,490"/>
<polygon class="c2 s2" points="693.3,486.7 710,480 720,501.7 693.3,503.3 686.7,490 676.7,493.3"/>
<polygon class="c8 s8" points="710,480 723.3,480 725.8,488.3 721.7,495 716.7,490"/>
<polygon class="c4 s4" points="723.3,495 725.8,488.3 743.3,495 760,493.3 760,518.3 746.7,520 736.7,516.7 726.7,510 720,501.7"/>
<polygon class="c2 s2" points="693.3,503.3 720,501.7 726.7,510 736.7,516.7 726.7,520 720,530 706.7,535 700,536.7 695,533.3 693.3,521.7 696.7,515 705,513.3 700,508.3"/>
<polygon class="c0 s0" points="720,530 726.7,520 736.7,516.7 746.7,520 756.7,521.7 751.7,535 740,538.3 726.7,536.7 710,537.5 706.7,535"/>
<polygon class="c6 s6" points="751.7,535 756.7,521.7 760,521.7 760,538.3 755,537.5"/>
<polygon class="c1 s1" points="675,523.3 688.3,531.7 695,533.3 700,536.7 705,541.7 705,548.3 698.3,551.7 691.7,556.7 685,555.8 676.7,559.2 668.3,563.3 660,558.3 666.7,550 668.3,543.3 673.3,535 671.7,528.3"/>
<polygon class="c1 s1" points="700,536.7 726.7,536.7 740,538.3 736.7,550 743.3,558.3 741.7,570 733.3,570.8 725,568.3 715,566.7 710,573.3 696.7,575 691.7,580 686.7,583.3 683.3,578.3 676.7,570 675,560 685,555.8 691.7,556.7 698.3,551.7 705,548.3 705,541.7"/>
<polygon class="c2 s2" points="736.7,550 751.7,543.3 760,543.3 760,580 743.3,578.3 741.7,570 743.3,558.3"/>
<polygon class="c6 s6" points="750,553.3 760,551.7 760,558.3 751.7,560"/>
<polygon class="c4 s4" points="746.7,560 753.3,558.3 760,560 760,565 750,565"/>
<polygon class="c6 s6" points="711.7,568.3 716.7,566.7 726.7,570 736.7,573.3 743.3,578.3 741.7,595 726.7,596.7 720,600 718.3,588.3 725,580 720,573.3"/>
<polygon class="c0 s0" points="691.7,580 696.7,575 710,573.3 715,566.7 720,573.3 725,580 718.3,588.3 710,591.7 706.7,601.7 703.3,611.7 693.3,613.3 690,603.3 688.3,593.3"/>
<polygon class="c1 s1" points="706.7,601.7 710,591.7 718.3,588.3 720,600 715,611.7 710,621.7 700,630 693.3,630 685,626.7 683.3,623.3 693.3,613.3 703.3,611.7"/>
<polygon class="c2 s2" points="720,600 726.7,596.7 741.7,595 760,596.7 760,610 745,613.3 736.7,608.3 725,606.7 716.7,611.7"/>
<polygon class="c6 s6" points="716.7,611.7 725,606.7 736.7,608.3 745,613.3 746.7,621.7 740,623.3 731.7,618.3 725,615 718.3,616.7"/>
<polygon class="c4 s4" points="700,630 710,621.7 718.3,616.7 725,615 731.7,618.3 740,623.3 736.7,630 726.7,635 720,643.3 715,646.7 706.7,651.7 701.7,643.3"/>
<polygon class="c0 s0" points="740,623.3 746.7,621.7 760,620 760,646.7 745,646.7 740,640 736.7,630"/>
<polygon class="c1 s1" points="693.3,630 700,630 701.7,643.3 706.7,651.7 715,646.7 720,643.3 726.7,635 736.7,630 740,640 745,646.7 760,646.7 760,680 676.7,680 676.7,663.3 686.7,656.7 693.3,648.3 691.7,636.7"/>
<polygon class="c0 s0" points="720,670 736.7,668.3 741.7,680 720,680"/>
<polygon class="c3 s3" points="593.3,506.7 601.7,511.7 613.3,515 616.7,523.3 615,535 623.3,538.3 628.3,546.7 631.7,558.3 623.3,563.3 618.3,570 610,563.3 603.3,563.3 590,561.7 581.7,566.7 576.7,553.3 585,551.7 586.7,535 591.7,521.7"/>
<polygon class="c2 s2" points="613.3,515 621.7,510 630,510 641.7,513.3 640,523.3 636.7,531.7 623.3,538.3 615,535 616.7,523.3"/>
<polygon class="c1 s1" points="623.3,538.3 636.7,531.7 646.7,538.3 643.3,546.7 635,553.3 631.7,558.3 628.3,546.7"/>
<polygon class="c0 s0" points="641.7,513.3 650,515 658.3,521.7 656.7,530 650,536.7 646.7,538.3 636.7,531.7 640,523.3"/>
<polygon class="c4 s4" points="658.3,521.7 666.7,523.3 675,533.3 668.3,543.3 666.7,550 660,558.3 651.7,566.7 643.3,565 640,560 631.7,558.3 635,553.3 643.3,546.7 646.7,538.3 650,536.7 656.7,530"/>
<polygon class="c2 s2" points="623.3,563.3 631.7,558.3 640,560 635,573.3 636.7,583.3 638.3,593.3 633.3,591.7 626.7,586.7 618.3,578.3 618.3,570"/>
<polygon class="c4 s4" points="635,573.3 643.3,565 651.7,566.7 660,560 668.3,563.3 666.7,580 660,586.7 655,586.7 648.3,593.3 641.7,596.7 638.3,593.3 636.7,583.3"/>
<polygon class="c2 s2" points="668.3,563.3 676.7,570 683.3,578.3 686.7,583.3 688.3,593.3 686.7,603.3 678.3,600 673.3,590 666.7,586.7 666.7,580"/>
<polygon class="c0 s0" points="623.3,600 633.3,595 641.7,596.7 648.3,593.3 655,586.7 660,586.7 666.7,586.7 673.3,590 678.3,600 686.7,603.3 690,603.3 693.3,613.3 683.3,623.3 676.7,620 663.3,623.3 653.3,625 643.3,620 636.7,611.7 633.3,606.7 626.7,606.7"/>
<polygon class="c4 s4" points="576.7,553.3 581.7,566.7 590,561.7 603.3,563.3 610,563.3 618.3,570 618.3,578.3 615,583.3 601.7,583.3 593.3,588.3 588.3,595 576.7,596.7 575,613.3 576.7,643.3 560,646.7 560,586.7 566.7,590 570,580 575,566.7"/>
<polygon class="c3 s3" points="595,576.7 603.3,575 610,578.3 613.3,583.3 601.7,583.3 596.7,581.7"/>
<polygon class="c5 s5" points="588.3,595 593.3,588.3 601.7,583.3 615,583.3 616.7,595 617.5,606.7 610,610 603.3,611.7 600,605 601.7,598.3 591.7,598.3"/>
<polygon class="c6 s6" points="615,583.3 618.3,583.3 626.7,586.7 633.3,591.7 636.7,596.7 633.3,595 623.3,600 626.7,606.7 633.3,606.7 636.7,611.7 626.7,615 618.3,615 617.5,606.7 616.7,595"/>
<polygon class="c3 s3" points="591.7,598.3 601.7,598.3 600,605 603.3,611.7 610,610 617.5,606.7 618.3,615 610,621.7 601.7,620 600,625 593.3,623.3 589.2,628.3 590,635 593.3,640 586.7,646.7 576.7,643.3 575,613.3 576.7,596.7 588.3,595"/>
<polygon class="c6 s6" points="589.2,628.3 593.3,623.3 600,625 601.7,620 610,621.7 618.3,615 626.7,615 636.7,611.7 643.3,620 638.3,626.7 633.3,635 631.7,640 623.3,641.7 616.7,636.7 611.7,631.7 608.3,640 593.3,640 590,635"/>
<polygon class="c2 s2" points="576.7,643.3 586.7,646.7 593.3,640 601.7,651.7 600,663.3 593.3,680 585,680 583.3,663.3"/>
<polygon class="c4 s4" points="560,646.7 576.7,643.3 583.3,663.3 585,680 560,680"/>
<polygon class="c4 s4" points="660,626.7 675,620 683.3,623.3 685,626.7 693.3,630 691.7,636.7 693.3,648.3 686.7,656.7 676.7,663.3 668.3,656.7 670,650 660,643.3 655,640"/>
<polygon class="c2 s2" points="638.3,626.7 643.3,620 653.3,625 651.7,633.3 645,640 640,646.7 633.3,646.7 631.7,640 633.3,635"/>
<polygon class="c3 s3" points="618.3,651.7 623.3,646.7 633.3,646.7 636.7,655 636.7,661.7 630,661.7 623.3,656.7"/>
<polygon class="c5 s5" points="760,496.7 766.7,490 775,486.7 776.7,495 783.3,500 791.7,505 795,510 785,515 780,520 770,518.3 765,513.3 760,511.7"/>
<polygon class="c4 s4" points="775,486.7 781.7,480 803.3,480 803.3,486.7 798.3,500 791.7,505 783.3,500 776.7,495"/>
<polygon class="c6 s6" points="765,496.7 770,488.3 776.7,495 771.7,500"/>
<polygon class="c1 s1" points="760,485 766.7,490 765,496.7 760,496.7"/>
<polygon class="c2 s2" points="770,518.3 780,520 785,515 795,510 796.7,516.7 803.3,520 808.3,516.7 800,536.7 793.3,533.3 785,535 778.3,530 771.7,525"/>
<polygon class="c6 s6" points="760,520 770,518.3 771.7,525 775,535 770,538.3 760,538.3"/>
<polygon class="c5 s5" points="781.7,541.7 786.7,536.7 800,536.7 803.3,543.3 810,546.7 806.7,553.3 808.3,560 811.7,573.3 808.3,575 793.3,578.3 788.3,570 783.3,563.3 785,555"/>
<polygon class="c1 s1" points="760,538.3 770,538.3 775,535 778.3,530 785,535 786.7,536.7 781.7,541.7 785,555 783.3,563.3 776.7,566.7 770,563.3 765,566.7 760,563.3"/>
<polygon class="c6 s6" points="760,550 763.3,551.7 762.5,558.3 760,559.2"/>
<polygon class="c2 s2" points="760,563.3 765,566.7 770,563.3 776.7,566.7 783.3,563.3 788.3,570 793.3,578.3 781.7,581.7 773.3,586.7 768.3,580 766.7,573.3 760,576.7"/>
<polygon class="c3 s3" points="760,576.7 766.7,573.3 768.3,580 773.3,586.7 775,591.7 770,606.7 768.3,621.7 760,621.7"/>
<polygon class="c4 s4" points="791.7,505 798.3,500 803.3,486.7 811.7,488.3 818.3,491.7 823.3,501.7 825,506.7 818.3,508.3 816.7,515 808.3,516.7 803.3,520 796.7,516.7 795,510"/>
<polygon class="c0 s0" points="818.3,491.7 825,485 826.7,493.3 823.3,498.3"/>
<polygon class="c5 s5" points="816.7,515 818.3,508.3 825,506.7 830,511.7 836.7,508.3 846.7,501.7 853.3,501.7 850,505 853.3,511.7 856.7,516.7 855,526.7 855,530 860,533.3 861.7,541.7 853.3,543.3 848.3,546.7 843.3,546.7 838.3,543.3 831.7,546.7 826.7,535 828.3,526.7 825,520"/>
<polygon class="c6 s6" points="845,528.3 853.3,530 860,535 860,541.7 853.3,541.7 848.3,536.7"/>
<polygon class="c1 s1" points="800,536.7 808.3,516.7 816.7,515 825,520 828.3,526.7 826.7,535 831.7,546.7 826.7,548.3 816.7,546.7 810,546.7 803.3,543.3"/>
<polygon class="c3 s3" points="810,546.7 816.7,546.7 826.7,548.3 829.2,553.3 826.7,563.3 825,568.3 821.7,573.3 811.7,573.3 808.3,560 806.7,553.3"/>
<polygon class="c5 s5" points="826.7,563.3 829.2,553.3 833.3,554.2 841.7,551.7 848.3,548.3 850,558.3 843.3,563.3 836.7,566.7 831.7,570 828.3,573.3 825,568.3"/>
<polygon class="c0 s0" points="829.2,548.3 840,546.7 845,545 848.3,548.3 841.7,551.7 833.3,554.2"/>
<polygon class="c4 s4" points="848.3,548.3 853.3,543.3 866.7,541.7 875,545.8 870,553.3 866.7,558.3 861.7,563.3 855,561.7 850,558.3"/>
<polygon class="c0 s0" points="831.7,570 836.7,566.7 843.3,563.3 846.7,558.3 850,558.3 855,561.7 861.7,563.3 860,570 853.3,578.3 848.3,580 841.7,578.3 838.3,573.3"/>
<polygon class="c7 s7" points="823.3,476.7 845,486.7 848.3,495 846.7,501.7 843.3,496.7 835,498.3 828.3,496.7 823.3,501.7 818.3,491.7 820,480"/>
<polygon class="c8 s8" points="823.3,501.7 828.3,496.7 835,498.3 843.3,496.7 846.7,501.7 841.7,505 836.7,508.3 830,511.7 825,506.7"/>
<polygon class="c9 s9" points="845,486.7 850,483.3 863.3,476.7 866.7,485 860,490 858.3,498.3 853.3,501.7 846.7,501.7 848.3,495"/>
<polygon class="c8 s8" points="863.3,476.7 890,476.7 895,493.3 900,505 901.7,515 890,513.3 885,506.7 880,501.7 873.3,496.7 875,490 866.7,485"/>
<polygon class="c7 s7" points="860,490 866.7,485 875,490 873.3,496.7 868.3,501.7 866.7,508.3 860,508.3 853.3,511.7 850,505 853.3,501.7 858.3,498.3"/>
<polygon class="c5 s5" points="866.7,500 875,498.3 880,501.7 883.3,513.3 886.7,523.3 880,528.3 876.7,521.7 875,513.3 868.3,510"/>
<polygon class="c6 s6" points="885,506.7 890,513.3 901.7,515 908.3,518.3 915,526.7 918.3,533.3 910,535 903.3,531.7 901.7,536.7 905,541.7 901.7,545 898.3,548.3 891.7,551.7 886.7,546.7 876.7,543.3 866.7,541.7 870,533.3 875,530 880,528.3 886.7,523.3 886.7,518.3"/>
<polygon class="c3 s3" points="855,526.7 858.3,518.3 866.7,516.7 876.7,521.7 880,521.7 875,530 870,533.3 866.7,541.7 861.7,541.7 860,533.3 855,530"/>
<polygon class="c5 s5" points="853.3,511.7 860,508.3 866.7,508.3 868.3,510 875,513.3 876.7,521.7 866.7,516.7 858.3,518.3 856.7,516.7"/>
<polygon class="c5 s5" points="901.7,545 905,541.7 910,540 918.3,537.5 921.7,542.5 915,543.3 918.3,551.7 910,555.8 901.7,559.2 898.3,553.3 898.3,548.3"/>
<polygon class="c5 s5" points="875,545.8 876.7,543.3 886.7,546.7 891.7,551.7 898.3,548.3 898.3,553.3 901.7,558.3 895,561.7 888.3,563.3 883.3,558.3 876.7,560 870,561.7 866.7,558.3 870,553.3"/>
<polygon class="c4 s4" points="888.3,553.3 896.7,550 901.7,558.3 895,561.7 888.3,560"/>
<polygon class="c7 s7" points="853.3,578.3 860,570 861.7,563.3 866.7,558.3 870,561.7 876.7,560 883.3,558.3 888.3,563.3 893.3,563.3 885,570 880,575 875,578.3 868.3,583.3 860,580 853.3,581.7"/>
<polygon class="c5 s5" points="880,575 885,570 893.3,563.3 898.3,561.7 901.7,573.3 903.3,580 898.3,583.3 893.3,580 888.3,576.7"/>
<polygon class="c7 s7" points="898.3,561.7 901.7,558.3 906.7,561.7 915,565 919.2,575 918.3,586.7 910,583.3 903.3,580 901.7,573.3"/>
<polygon class="c9 s9" points="846.7,584.2 853.3,581.7 860,580 868.3,583.3 869.2,591.7 863.3,595 858.3,600 855,603.3 853.3,593.3"/>
<polygon class="c8 s8" points="868.3,583.3 875,578.3 880,575 888.3,576.7 893.3,580 895,586.7 890,591.7 883.3,593.3 876.7,598.3 873.3,595 869.2,591.7"/>
<polygon class="c6 s6" points="890,591.7 895,586.7 893.3,580 898.3,583.3 903.3,580 910,583.3 918.3,586.7 913.3,593.3 912.5,601.7 906.7,606.7 901.7,600 893.3,596.7"/>
<polygon class="c4 s4" points="858.3,600 863.3,595 869.2,591.7 873.3,595 876.7,598.3 883.3,593.3 888.3,596.7 886.7,606.7 880,611.7 875,616.7 871.7,615 866.7,620 861.7,616.7 860,606.7"/>
<polygon class="c3 s3" points="883.3,593.3 890,591.7 893.3,596.7 901.7,600 906.7,606.7 901.7,611.7 898.3,616.7 893.3,625 888.3,620 881.7,621.7 876.7,618.3 875,616.7 880,611.7 886.7,606.7 888.3,596.7"/>
<polygon class="c3 s3" points="773.3,586.7 781.7,581.7 793.3,578.3 808.3,575 811.7,573.3 821.7,573.3 820,580 815,590 818.3,596.7 823.3,603.3 815,605 810,611.7 803.3,618.3 793.3,613.3 785,610 776.7,600 775,591.7"/>
<polygon class="c2 s2" points="785,588.3 801.7,586.7 810,596.7 806.7,610 793.3,611.7 785,603.3"/>
<polygon class="c6 s6" points="815,590 820,580 821.7,573.3 825,568.3 828.3,573.3 830,583.3 836.7,590 833.3,596.7 826.7,598.3 823.3,603.3 818.3,596.7"/>
<polygon class="c5 s5" points="828.3,573.3 831.7,570 838.3,573.3 841.7,578.3 840,583.3 836.7,590 830,583.3"/>
<polygon class="c7 s7" points="836.7,590 840,583.3 841.7,578.3 848.3,580 846.7,584.2 853.3,593.3 855,603.3 851.7,606.7 841.7,611.7 835,606.7 833.3,596.7"/>
<polygon class="c0 s0" points="823.3,603.3 826.7,598.3 833.3,596.7 835,606.7 831.7,611.7 826.7,610"/>
<polygon class="c4 s4" points="803.3,618.3 810,611.7 815,605 823.3,603.3 826.7,610 831.7,611.7 828.3,616.7 830,625 823.3,630 818.3,638.3 813.3,636.7 811.7,628.3 805,625"/>
<polygon class="c1 s1" points="775,591.7 776.7,600 785,610 793.3,613.3 803.3,618.3 805,625 811.7,628.3 813.3,636.7 818.3,638.3 815,646.7 810,656.7 808.3,666.7 806.7,680 780,680 781.7,663.3 773.3,661.7 775,646.7 771.7,630 768.3,621.7 770,606.7"/>
<polygon class="c0 s0" points="782.5,611.7 786.7,607.5 796.7,609.2 793.3,615 785,617.5"/>
<polygon class="c0 s0" points="768.3,615 775,613.3 776.7,620 773.3,626.7 768.3,621.7"/>
<polygon class="c2 s2" points="831.7,611.7 841.7,611.7 851.7,606.7 855,603.3 860,606.7 861.7,616.7 866.7,620 871.7,615 875,616.7 876.7,618.3 881.7,621.7 888.3,620 893.3,625 888.3,631.7 881.7,638.3 878.3,645 866.7,646.7 856.7,646.7 853.3,638.3 843.3,633.3 833.3,628.3 830,625 828.3,616.7"/>
<polygon class="c3 s3" points="818.3,638.3 823.3,630 830,625 833.3,628.3 843.3,633.3 853.3,638.3 856.7,646.7 855,653.3 846.7,655 841.7,660 835,656.7 826.7,653.3 823.3,646.7"/>
<polygon class="c2 s2" points="856.7,646.7 866.7,646.7 878.3,645 876.7,655 878.3,660 871.7,663.3 866.7,668.3 861.7,676.7 853.3,671.7 846.7,663.3 841.7,660 846.7,655 855,653.3"/>
<polygon class="c0 s0" points="854.2,658.3 861.7,655 866.7,661.7 860,665 855,663.3"/>
<polygon class="c1 s1" points="815,646.7 818.3,638.3 823.3,646.7 826.7,653.3 835,656.7 841.7,660 846.7,663.3 853.3,671.7 861.7,676.7 860,683.3 806.7,683.3 808.3,666.7 810,656.7"/>
<polygon class="c0 s0" points="828.3,673.3 836.7,666.7 841.7,671.7 840,680 830,680"/>
<polygon class="c6 s6" points="805,676.7 808.3,673.3 816.7,674.2 823.3,678.3 823.3,681.7 805,681.7"/>
<polygon class="c5 s5" points="560,675 575,673.3 585,678.3 593.3,681.7 586.7,690 590,700 593.3,710 595,723.3 560,726.7"/>
<polygon class="c4 s4" points="586.7,690 593.3,681.7 603.3,683.3 610,683.3 616.7,685 623.3,691.7 631.7,688.3 635,694.2 633.3,700 626.7,705 622.5,709.2 618.3,707.5 610,713.3 605,718.3 599.2,717.5 595,723.3 593.3,710 590,700"/>
<polygon class="c2 s2" points="581.7,660 603.3,660 608.3,665 605,673.3 604.2,680 603.3,683.3 593.3,681.7 585,678.3 586.7,670 581.7,665"/>
<polygon class="c4 s4" points="560,660 581.7,660 581.7,665 586.7,670 585,678.3 575,673.3 560,675"/>
<polygon class="c1 s1" points="678.3,665 686.7,660 720,660 726.7,668.3 723.3,676.7 715,683.3 706.7,685 698.3,686.7 691.7,691.7 683.3,688.3 683.3,676.7"/>
<polygon class="c2 s2" points="706.7,685 715,683.3 718.3,693.3 726.7,698.3 728.3,706.7 723.3,715 716.7,716.7 715,708.3 710,696.7"/>
<polygon class="c1 s1" points="698.3,711.7 710,709.2 716.7,716.7 715,723.3 708.3,730 701.7,736.7 695,738.3 694.2,726.7 696.7,718.3"/>
<polygon class="c2 s2" points="738.3,675 745,668.3 753.3,668.3 760,671.7 760,731.7 750,733.3 743.3,730 738.3,726.7 743.3,718.3 751.7,710 751.7,693.3 743.3,683.3"/>
<polygon class="c1 s1" points="738.3,726.7 743.3,718.3 751.7,710 760,708.3 760,731.7 750,733.3 743.3,730"/>
<polygon class="c3 s3" points="753.3,693.3 760,691.7 760,708.3 755,706.7"/>
<polygon class="c1 s1" points="720,660 760,660 760,671.7 753.3,668.3 745,668.3 738.3,675 733.3,670 726.7,668.3"/>
<polygon class="c4 s4" points="626.7,660 638.3,660 635,662.5 630,662.5"/>
<polygon class="c5 s5" points="671.7,660 678.3,660 676.7,663.3"/>
<polygon class="c1 s1" points="740,660 856.7,660 870,663.3 863.3,670 858.3,676.7 850,675 843.3,673.3 836.7,668.3 830,673.3 825,678.3 816.7,675 806.7,673.3 801.7,681.7 799.2,691.7 800,700 795,705 786.7,701.7 778.3,693.3 770,698.3 756.7,693.3 753.3,683.3 740,670"/>
<polygon class="c0 s0" points="855,660 865,660 861.7,665 856.7,665"/>
<polygon class="c6 s6" points="806.7,673.3 816.7,675 825,678.3 826.7,688.3 821.7,693.3 818.3,700 815,705 813.3,711.7 808.3,710 805,703.3 800,700 799.2,691.7 801.7,681.7"/>
<polygon class="c4 s4" points="813.3,711.7 815,705 818.3,700 821.7,693.3 826.7,688.3 832.5,699.2 825,708.3 818.3,713.3"/>
<polygon class="c0 s0" points="826.7,688.3 825,678.3 830,673.3 836.7,668.3 843.3,673.3 850,680 843.3,693.3 836.7,701.7 831.7,700"/>
<polygon class="c4 s4" points="843.3,673.3 850,675 853.3,678.3 848.3,680"/>
<polygon class="c2 s2" points="740,670 753.3,683.3 756.7,693.3 770,698.3 771.7,710 768.3,720 765,730 758.3,735 753.3,740 746.7,740.8 740,738.3 740,718.3 750,710 751.7,696.7 746.7,685 740,683.3"/>
<polygon class="c0 s0" points="740,683.3 746.7,685 751.7,696.7 750,710 740,718.3"/>
<polygon class="c0 s0" points="756.7,726.7 761.7,724.2 765,730 758.3,735"/>
<polygon class="c4 s4" points="770,698.3 778.3,693.3 786.7,701.7 795,705 800,700 805,703.3 808.3,710 813.3,711.7 813.3,715 805,716.7 798.3,719.2 791.7,719.2 785,723.3 778.3,726.7 773.3,728.3 771.7,716.7 771.7,710"/>
<polygon class="c10 s10" points="486.7,365 495.8,365.3 494.2,370.3 485.8,370"/>
<polygon class="c4 s4" points="475.8,378.3 480,371.7 486.7,370.8 493.3,373.3 501.7,370 508.3,366.7 516.7,366.7 526.7,370 531.7,375 538.3,380 543.3,385 550,391.7 546.7,398.3 555,401.7 561.7,406.7 560,411.7 550,408.3 541.7,405 535,401.7 526.7,396.7 516.7,393.3 508.3,388.3 500,383.3 493.3,385 488.3,388.3 481.7,385"/>
<polygon class="c0 s0" points="501.7,371.7 506.7,372.5 510,378.3 503.3,375.8"/>
<polygon class="c6 s6" points="550,391.7 556.7,386.7 555,383.3 566.7,380 576.7,381.7 586.7,376.7 595,375.8 598.3,383.3 593.3,391.7 585,396.7 585,403.3 590,411.7 586.7,423.3 581.7,426.7 573.3,428.3 568.3,425 561.7,415 560,406.7 555,401.7 546.7,398.3"/>
<polygon class="c1 s1" points="590,411.7 600,416.7 600,440 593.3,433.3 586.7,423.3"/>
<polygon class="c5 s5" points="573.3,428.3 581.7,426.7 586.7,423.3 593.3,433.3 600,440 600,455 591.7,448.3 583.3,441.7 576.7,438.3"/>
<polygon class="c5 s5" points="555,425 566.7,423.3 571.7,430 576.7,441.7 573.3,448.3 571.7,455 565,453.3 560,446.7 558.3,440 553.3,438.3"/>
<polygon class="c2 s2" points="538.3,416.7 546.7,418.3 556.7,421.7 555,425 553.3,438.3 545,440 540,433.3 543.3,426.7"/>
<polygon class="c4 s4" points="475.8,488.3 483.3,482.5 493.3,485 496.7,493.3 503.3,503.3 513.3,508.3 520,507.5 525,513.3 533.3,516.7 538.3,528.3 543.3,540 498.3,540 496.7,531.7 491.7,523.3 483.3,516.7 476.7,513.3 475.8,506.7 481.7,498.3 478.3,493.3"/>
<polygon class="c4 s4" points="490,516.7 533.3,516.7 540,530 543.3,538.3 556.7,543.3 561.7,551.7 565,556.7 563.3,566.7 564.2,578.3 558.3,580 563.3,590 571.7,583.3 578.3,570 586.7,563.3 596.7,561.7 606.7,565 616.7,570 621.7,576.7 618.3,583.3 606.7,585 598.3,585 593.3,591.7 588.3,595 590,603.3 585,610 581.7,618.3 575,621.7 575,633.3 577.5,641.7 571.7,645 563.3,646.7 556.7,648.3 553.3,645 548.3,635 541.7,625 536.7,615 530,611.7 523.3,605 516.7,595 511.7,603.3 506.7,591.7 505,575 503.3,553.3 498.3,540"/>
<polygon class="c0 s0" points="546.7,628.3 553.3,624.2 561.7,626.7 560,635 556.7,641.7 550,640"/>
<polygon class="c0 s0" points="533.3,516.7 590,516.7 595,530 586.7,538.3 585,548.3 576.7,553.3 578.3,563.3 573.3,576.7 563.3,590 558.3,580 564.2,578.3 563.3,566.7 565,556.7 561.7,551.7 556.7,543.3 543.3,538.3 540,530"/>
<polygon class="c3 s3" points="590,516.7 616.7,516.7 623.3,533.3 615,546.7 606.7,548.3 596.7,545 590,538.3 595,530"/>
<polygon class="c2 s2" points="576.7,553.3 585,548.3 586.7,538.3 590,538.3 596.7,545 606.7,548.3 610,558.3 606.7,565 596.7,561.7 586.7,563.3 578.3,563.3"/>
<polygon class="c1 s1" points="621.7,535 640,530 640,553.3 628.3,560 623.3,553.3"/>
<polygon class="c3 s3" points="606.7,548.3 615,546.7 623.3,553.3 628.3,560 623.3,566.7 616.7,570 606.7,565 610,558.3"/>
<polygon class="c2 s2" points="623.3,561.7 640,558.3 640,593.3 635,591.7 626.7,583.3 618.3,578.3 621.7,570"/>
<polygon class="c3 s3" points="596.7,576.7 606.7,575 618.3,578.3 618.3,583.3 606.7,585 598.3,585"/>
<polygon class="c5 s5" points="588.3,595 593.3,591.7 598.3,585 606.7,585 618.3,583.3 616.7,591.7 618.3,601.7 616.7,608.3 610,611.7 603.3,610 601.7,601.7 596.7,596.7 590,598.3"/>
<polygon class="c6 s6" points="616.7,583.3 623.3,585 635,591.7 636.7,596.7 628.3,595 623.3,600 626.7,606.7 635,606.7 636.7,611.7 630,615 620,615 616.7,608.3 618.3,601.7 616.7,591.7"/>
<polygon class="c3 s3" points="585,610 590,603.3 588.3,595 590,598.3 596.7,596.7 601.7,601.7 603.3,610 610,611.7 616.7,608.3 618.3,615 616.7,620 606.7,621.7 600,620 593.3,621.7 590,628.3 581.7,636.7 577.5,641.7 575,633.3 575,621.7 581.7,618.3"/>
<polygon class="c6 s6" points="588.3,628.3 593.3,621.7 600,620 606.7,621.7 616.7,620 620,615 630,615 640,620 640,628.3 633.3,636.7 623.3,641.7 615,635 610,631.7 605,636.7 598.3,638.3 591.7,640 590,633.3"/>
<polygon class="c0 s0" points="603.3,641.7 610,633.3 615,635 623.3,641.7 633.3,636.7 640,640 640,670 630,673.3 623.3,676.7 613.3,675 606.7,680 603.3,673.3 608.3,666.7 605,658.3 601.7,651.7"/>
<polygon class="c3 s3" points="616.7,651.7 623.3,645 633.3,648.3 635,658.3 628.3,661.7 621.7,658.3"/>
<polygon class="c2 s2" points="581.7,636.7 590,628.3 591.7,640 598.3,638.3 605,636.7 603.3,641.7 601.7,651.7 605,658.3 608.3,666.7 603.3,673.3 596.7,681.7 590,676.7 585,666.7 583.3,655 580,646.7"/>
<polygon class="c4 s4" points="563.3,646.7 571.7,645 577.5,641.7 580,646.7 583.3,655 585,666.7 590,676.7 586.7,678.3 578.3,678.3 573.3,676.7 566.7,680 560,680 556.7,676.7 560,671.7 565,666.7 566.7,656.7"/>
<polygon class="c2 s2" points="540,645 546.7,642.5 553.3,645 556.7,648.3 563.3,646.7 566.7,656.7 565,666.7 560,671.7 556.7,676.7 551.7,683.3 546.7,685 541.7,676.7 536.7,670 540,661.7 538.3,651.7"/>
<polygon class="c1 s1" points="504.2,648.3 511.7,640 518.3,636.7 528.3,636.7 531.7,643.3 533.3,650 540,645 538.3,651.7 540,661.7 536.7,670 533.3,675 526.7,675 523.3,668.3 518.3,665 513.3,661.7 508.3,660 506.7,653.3"/>
<polygon class="c8 s8" points="489.2,661.7 496.7,655 500,658.3 508.3,660 513.3,663.3 518.3,668.3 522.5,667.5 518.3,673.3 516.7,680 511.7,685 510,681.7 503.3,686.7 499.2,687.5 498.3,680 495,676.7 493.3,670"/>
<polygon class="c4 s4" points="530,688.3 533.3,675 541.7,676.7 546.7,685 550,693.3 555,703.3 556.7,715 560,720 556.7,736.7 506.7,736.7 515,708.3 523.3,706.7 526.7,696.7"/>
<polygon class="c5 s5" points="546.7,685 551.7,683.3 556.7,676.7 560,680 566.7,680 573.3,676.7 578.3,678.3 586.7,678.3 593.3,680 588.3,688.3 586.7,696.7 590,703.3 591.7,711.7 593.3,720 593.3,736.7 556.7,736.7 560,720 556.7,715 555,703.3 550,693.3"/>
<polygon class="c4 s4" points="588.3,688.3 593.3,680 596.7,681.7 606.7,680 613.3,685 620,688.3 630,690 633.3,695 628.3,700 623.3,705 615,705 610,708.3 606.7,715 598.3,720 598.3,736.7 593.3,736.7 593.3,720 591.7,711.7 590,703.3 586.7,696.7"/>
<polygon class="c3 s3" points="680,403.3 683.3,400 691.7,391.7 698.3,383.3 701.7,380 726.7,380 720,390 711.7,401.7 715.8,413.3 710,428.3 696.7,421.7 690,418.3 680,423.3"/>
<polygon class="c1 s1" points="680,420 690,417.5 701.7,418.3 710,428.3 711.7,450 706.7,463.3 708.3,475 698.3,473.3 690,480 680,478.3"/>
<polygon class="c0 s0" points="680,458.3 685,455 691.7,455.8 690,463.3 683.3,468.3 680,466.7"/>
<polygon class="c2 s2" points="680,478.3 690,480 698.3,473.3 708.3,475 713.3,486.7 720,496.7 718.3,503.3 705,504.2 693.3,503.3 680,500"/>
<polygon class="c3 s3" points="726.7,380 780,380 773.3,388.3 768.3,393.3 766.7,398.3 761.7,395 755,401.7 756.7,396.7 743.3,399.2 741.7,401.7 729.2,405 735,411.7 741.7,418.3 735,421.7 728.3,430 711.7,428.3 715.8,413.3 711.7,401.7 720,390"/>
<polygon class="c5 s5" points="711.7,428.3 728.3,430 738.3,425 746.7,423.3 738.3,430 738.3,436.7 746.7,441.7 748.3,446.7 738.3,450 736.7,456.7 740,461.7 730,463.3 713.3,451.7 711.7,450"/>
<polygon class="c7 s7" points="729.2,405 741.7,401.7 743.3,399.2 756.7,396.7 758.3,401.7 751.7,405 746.7,413.3 741.7,418.3 735,411.7"/>
<polygon class="c0 s0" points="755,401.7 761.7,395 766.7,398.3 773.3,410.8 763.3,411.7 760,405"/>
<polygon class="c6 s6" points="728.3,430 735,421.7 741.7,418.3 746.7,413.3 751.7,405 760,405 763.3,411.7 775,411.7 770,421.7 768.3,430 763.3,430 753.3,425 746.7,423.3 738.3,425"/>
<polygon class="c4 s4" points="738.3,430 746.7,423.3 753.3,425 763.3,430 765,436.7 768.3,446.7 761.7,448.3 753.3,446.7 746.7,441.7 738.3,436.7"/>
<polygon class="c7 s7" points="736.7,456.7 738.3,450 748.3,446.7 753.3,446.7 761.7,448.3 766.7,450 763.3,456.7 753.3,461.7 740,461.7"/>
<polygon class="c3 s3" points="710,453.3 713.3,451.7 730,463.3 740,461.7 738.3,466.7 723.3,470 708.3,475 706.7,463.3"/>
<polygon class="c0 s0" points="740,461.7 753.3,461.7 750,466.7 741.7,467.5"/>
<polygon class="c8 s8" points="708.3,475 723.3,470 738.3,466.7 736.7,473.3 725,478.3 723.3,483.3 726.7,488.3 723.3,495 720,495 713.3,486.7"/>
<polygon class="c3 s3" points="780,380 825,380 823.3,386.7 830,391.7 840,393.3 843.3,400 836.7,405 820,411.7 813.3,418.3 806.7,426.7 800,433.3 796.7,443.3 783.3,441.7 770,438.3 765,431.7 768.3,430 770,421.7 775,411.7 773.3,410.8 766.7,398.3 768.3,393.3 773.3,388.3"/>
<polygon class="c2 s2" points="805,395 811.7,385 821.7,388.3 830,391.7 840,393.3 843.3,400 836.7,405 820,411.7 811.7,406.7 808.3,400"/>
<polygon class="c4 s4" points="773.3,421.7 780,413.3 790,410 800,415 806.7,426.7 800,433.3 796.7,443.3 783.3,441.7 770,438.3 765,431.7 768.3,430"/>
<polygon class="c4 s4" points="825,380 846.7,380 845,386.7 840,393.3 830,391.7 823.3,386.7"/>
<polygon class="c5 s5" points="770,438.3 783.3,441.7 796.7,443.3 790,446.7 790.8,456.7 788.3,463.3 780,466.7 770,466.7 765,458.3 768.3,446.7"/>
<polygon class="c0 s0" points="774.2,448.3 780,445 786.7,450 780,455.8 775,453.3"/>
<polygon class="c1 s1" points="790.8,445 798.3,442.5 800,450 795,456.7 790.8,456.7"/>
<polygon class="c4 s4" points="725,478.3 736.7,473.3 738.3,466.7 750,466.7 753.3,461.7 763.3,456.7 766.7,450 765,458.3 770,466.7 780,466.7 788.3,463.3 796.7,470 801.7,476.7 806.7,476.7 813.3,473.3 818.3,480 820,486.7 810,490 803.3,486.7 800,496.7 791.7,506.7 796.7,513.3 806.7,518.3 808.3,530 800,536.7 793.3,535 786.7,533.3 783.3,536.7 775,530 770,523.3 768.3,518.3 756.7,520 746.7,520 736.7,516.7 728.3,510 721.7,501.7 720,495 723.3,495 726.7,488.3 723.3,483.3"/>
<polygon class="c1 s1" points="746.7,486.7 751.7,480 760,481.7 763.3,490 766.7,496.7 763.3,503.3 758.3,496.7 750,493.3"/>
<polygon class="c6 s6" points="765,496.7 770,488.3 775,486.7 778.3,495 773.3,496.7 768.3,498.3"/>
<polygon class="c5 s5" points="760,506.7 765,496.7 778.3,495 786.7,503.3 791.7,506.7 786.7,513.3 780,520 770,518.3 768.3,511.7 761.7,513.3"/>
<polygon class="c2 s2" points="770,518.3 780,520 786.7,513.3 791.7,506.7 796.7,513.3 806.7,518.3 808.3,530 800,536.7 793.3,535 786.7,533.3 783.3,536.7 775,530 770,523.3"/>
<polygon class="c4 s4" points="788.3,463.3 790.8,456.7 795,456.7 800,450 806.7,446.7 816.7,445 830,450 836.7,453.3 840,463.3 830,468.3 823.3,468.3 816.7,473.3 813.3,473.3 806.7,476.7 801.7,476.7 796.7,470"/>
<polygon class="c4 s4" points="791.7,506.7 800,496.7 803.3,486.7 810,490 820,486.7 818.3,496.7 818.3,506.7 813.3,513.3 808.3,518.3 806.7,518.3 796.7,513.3"/>
<polygon class="c1 s1" points="800,536.7 808.3,530 808.3,518.3 813.3,513.3 821.7,518.3 825,528.3 830,536.7 823.3,543.3 813.3,545 806.7,543.3"/>
<polygon class="c0 s0" points="703.3,536.7 710,531.7 721.7,528.3 726.7,520 736.7,516.7 746.7,520 756.7,520 755,526.7 751.7,533.3 736.7,540 728.3,540 713.3,540 708.3,540.8"/>
<polygon class="c6 s6" points="751.7,533.3 756.7,525 763.3,520 768.3,521.7 771.7,530 776.7,536.7 770,538.3 761.7,540 755,538.3"/>
<polygon class="c2 s2" points="693.3,503.3 718.3,503.3 721.7,501.7 728.3,510 736.7,516.7 726.7,520 721.7,528.3 710,531.7 703.3,536.7 696.7,530 693.3,521.7 695,511.7"/>
<polygon class="c1 s1" points="680,500 693.3,503.3 695,511.7 693.3,521.7 696.7,530 703.3,536.7 708.3,540.8 705,550 696.7,556.7 680,556.7"/>
<polygon class="c1 s1" points="736.7,540 751.7,533.3 755,538.3 761.7,540 770,538.3 776.7,536.7 783.3,536.7 781.7,546.7 786.7,556.7 783.3,563.3 773.3,563.3 763.3,560 761.7,553.3 753.3,551.7 746.7,560 738.3,563.3 736.7,550"/>
<polygon class="c6 s6" points="748.3,555 753.3,552.5 761.7,551.7 763.3,559.2 756.7,560 750,559.2"/>
<polygon class="c4 s4" points="746.7,560 748.3,555 750,559.2 756.7,560 763.3,559.2 763.3,563.3 755,565"/>
<polygon class="c6 s6" points="781.7,546.7 783.3,536.7 786.7,533.3 793.3,535 800,536.7 806.7,543.3 808.3,551.7 810,563.3 800,571.7 793.3,573.3 786.7,568.3 783.3,563.3 786.7,556.7"/>
<polygon class="c4 s4" points="783.3,563.3 786.7,568.3 793.3,573.3 800,571.7 796.7,580 783.3,580"/>
<polygon class="c6 s6" points="711.7,568.3 718.3,566.7 735,571.7 743.3,580 713.3,580"/>
<polygon class="c0 s0" points="696.7,575 705,573.3 713.3,580 696.7,580"/>
<polygon class="c4 s4" points="806.7,543.3 813.3,545 823.3,543.3 830,536.7 835,546.7 830,553.3 825,560 821.7,568.3 813.3,568.3 810,563.3 808.3,551.7"/>
<polygon class="c0 s0" points="829.2,550 840,546.7 846.7,548.3 843.3,553.3 833.3,555"/>
<polygon class="c0 s0" points="833.3,568.3 846.7,558.3 860,566.7 855,573.3 843.3,575 836.7,573.3"/>
<polygon class="c3 s3" points="836.7,405 843.3,400 851.7,405 850,413.3 846.7,421.7 840,423.3 835,420 826.7,420 821.7,426.7 816.7,435 811.7,443.3 806.7,446.7 800,450 798.3,442.5 800,433.3 806.7,426.7 813.3,418.3 820,411.7"/>
<polygon class="c2 s2" points="823.3,413.3 838.3,406.7 846.7,413.3 845,421.7 836.7,421.7 830,416.7"/>
<polygon class="c5 s5" points="798.3,442.5 806.7,446.7 811.7,443.3 816.7,435 815,428.3 806.7,430 800,435"/>
<polygon class="c7 s7" points="811.7,443.3 816.7,435 821.7,426.7 826.7,420 830,415 835,420 840,430 845,440 851.7,441.7 856.7,435 850,430 851.7,421.7 855,416.7 863.3,420 880,423.3 880,463.3 871.7,466.7 860,473.3 853.3,476.7 843.3,475 836.7,470 840,463.3 836.7,453.3 830,450 816.7,445"/>
<polygon class="c6 s6" points="826.7,420 830,415 835,420 840,430 836.7,436.7 830,435 823.3,436.7 821.7,426.7"/>
<polygon class="c8 s8" points="858.3,450 863.3,445 871.7,446.7 875,453.3 871.7,460 865,461.7 860,456.7"/>
<polygon class="c5 s5" points="851.7,405 863.3,401.7 868.3,408.3 863.3,420 855,416.7 850,413.3"/>
<polygon class="c3 s3" points="840,423.3 846.7,421.7 851.7,421.7 850,430 845,440 840,430"/>
<polygon class="c7 s7" points="816.7,473.3 820,468.3 826.7,468.3 830,473.3 828.3,483.3 823.3,486.7 818.3,480"/>
<polygon class="c7 s7" points="818.3,480 823.3,486.7 828.3,483.3 830,473.3 835,476.7 843.3,475 853.3,476.7 846.7,483.3 848.3,493.3 843.3,503.3 835,508.3 826.7,511.7 823.3,505 825,496.7 826.7,490 820,486.7"/>
<polygon class="c0 s0" points="818.3,488.3 825,485 826.7,496.7 823.3,500 819.2,495"/>
<polygon class="c9 s9" points="845,485 855,481.7 865,478.3 865,486.7 858.3,495 855,501.7 846.7,503.3 848.3,493.3"/>
<polygon class="c8 s8" points="853.3,476.7 860,473.3 871.7,466.7 880,463.3 880,486.7 873.3,490 865,486.7 865,478.3 855,481.7"/>
<polygon class="c7 s7" points="855,501.7 858.3,495 865,486.7 873.3,490 880,486.7 880,506.7 870,505 866.7,513.3 860,511.7"/>
<polygon class="c8 s8" points="823.3,505 826.7,511.7 835,508.3 843.3,503.3 846.7,503.3 843.3,510 830,513.3"/>
<polygon class="c5 s5" points="818.3,506.7 823.3,505 830,513.3 843.3,510 846.7,503.3 855,501.7 860,511.7 866.7,513.3 856.7,525 858.3,533.3 853.3,540 846.7,546.7 840,546.7 835,546.7 830,536.7 825,528.3 821.7,518.3 813.3,513.3"/>
<polygon class="c4 s4" points="856.7,516.7 866.7,513.3 880,510 880,530 868.3,530 858.3,533.3"/>
<polygon class="c2 s2" points="910,665 916.2,670 915,682.5 911.2,697.5 906.2,710 901.2,720 898.8,733.8 895.5,734.2 892.5,725 886.2,720 883,710 885,700 892.5,685 900,672.5"/>
<polygon class="c2 s2" points="690,775 705,772.5 717.5,771.2 722,777.5 720,785 713.8,792.5 711.2,801.2 695,810.8 683.8,807.5 677.5,803.8 677.5,786.2 683.8,780"/>
<polygon class="c0 s0" points="500,688.3 508.3,682.5 513.3,684.2 516.7,676.7 522.5,670 525,670 528.3,675.8 531.7,676.7 530,690 526.7,698.3 525,706.7 513.3,710 503.3,706.7 500.8,696.7"/>
<polygon class="c4 s4" points="540,618.3 575,618.3 576.7,630 575,640 570,645 563.3,649.2 555,648.3 548.3,642.5 543.3,631.7"/>
<polygon class="c0 s0" points="546.7,626.7 553.3,624.2 561.7,626.7 560,635 556.7,641.7 550.8,640"/>
<polygon class="c3 s3" points="575,618.3 601.7,618.3 601.7,621.7 590,625 588.3,630 586.7,630 580,631.7 576.7,630"/>
<polygon class="c8 s8" points="490,660 495.8,654.2 499.2,659.2 508.3,660.8 515,668.3 521.7,667.5 522.5,670 516.7,676.7 513.3,684.2 508.3,682.5 500,688.3 499.2,680 494.2,676.7 493.3,668.3"/>
<polygon class="c1 s1" points="504.2,650 513.3,638.3 526.7,636.7 531.7,645 533.3,650 540,653.3 538.3,663.3 536.7,675 528.3,675.8 525,670 522.5,667.5 515,668.3 508.3,660.8 505,655.8"/>
<polygon class="c2 s2" points="533.3,650 540,644.2 548.3,642.5 555,648.3 563.3,649.2 566.7,658.3 563.3,671.7 558.3,675 558.3,685 550,685.8 545,683.3 540,678.3 536.7,675 538.3,663.3 540,653.3"/>
<polygon class="c4 s4" points="563.3,649.2 570,645 576.7,645 580,651.7 585,655 583.3,665 586.7,671.7 593.3,677.5 586.7,676.7 576.7,676.7 575,673.3 570,678.3 563.3,681.7 558.3,685 558.3,675 563.3,671.7 566.7,658.3"/>
<polygon class="c2 s2" points="575,640 580,631.7 586.7,630 590,636.7 596.7,640 605,638.3 603.3,650 601.7,658.3 606.7,666.7 605,675 603.3,681.7 598.3,683.3 593.3,677.5 586.7,671.7 583.3,665 585,655 580,651.7 576.7,645 570,645"/>
<polygon class="c5 s5" points="548.3,686.7 558.3,685 563.3,681.7 570,678.3 575,673.3 576.7,676.7 586.7,676.7 593.3,677.5 591.7,685 588.3,690 588.3,700 591.7,708.3 592.5,720 590,718.3 586.7,721.7 582.5,718.3 578.3,724.2 573.3,720.8 566.7,718.3 560,718.3 555.8,713.3 555,703.3 551.7,695"/>
<polygon class="c4 s4" points="591.7,685 593.3,677.5 598.3,683.3 603.3,681.7 610,682.5 615,684.2 616.7,688.3 622.5,690 632.5,688.3 634.2,693.3 632.5,699.2 626.7,702.5 621.7,706.7 616.7,708.3 611.7,711.7 606.7,715.8 601.7,719.2 596.7,717.5 594.2,723.3 592.5,720 591.7,708.3 588.3,700 588.3,690"/>
<polygon class="c4 s4" points="506.7,730.8 511.7,716.7 513.3,710 525,706.7 526.7,698.3 530,690 531.7,676.7 536.7,675 540,678.3 545,683.3 548.3,686.7 551.7,695 555,703.3 555.8,713.3 560,718.3 566.7,718.3 560,723.3 552.5,723.3 543.3,720 535,721.7 530,723.3 525,726.7 523.3,731.7 516.7,731.7"/>
<polygon class="c0 s0" points="523.3,731.7 525,726.7 530,723.3 535,721.7 543.3,720 552.5,723.3 550.8,726.7 552.5,733.3 555,740 556.7,750 545.8,750.8 545,743.3 542.5,736.7 538.3,736.7 533.3,744.2 526.7,743.3 520.8,736.7"/>
<polygon class="c6 s6" points="590,625 601.7,621.7 616.7,620 643.3,620 641.7,626.7 633.3,631.7 631.7,638.3 623.3,641.7 616.7,636.7 611.7,631.7 606.7,635 605,638.3 596.7,640 590,636.7 588.3,630"/>
<polygon class="c2 s2" points="633.3,631.7 641.7,626.7 650,623.3 653.3,630 651.7,636.7 645,643.3 638.3,640 631.7,638.3"/>
<polygon class="c3 s3" points="618.3,650 625,643.3 631.7,641.7 636.7,645 635,651.7 636.7,660 631.7,661.7 626.7,656.7 621.7,655"/>
<polygon class="c1 s1" points="653.8,420 713.8,420 710,427.5 710,435 712.5,447.5 711.2,451.2 695,460 692.5,460 690,456.2 685,455 681.2,458.8 676.9,463.8 677.5,462.5 670,461.2 676.9,458.8 675,451.2 678.8,443.8 677.5,437.5 662.5,430 653.8,426.2"/>
<polygon class="c5 s5" points="638.8,433.8 642.5,423.8 653.8,426.2 662.5,430 677.5,437.5 678.8,443.8 675,451.2 676.9,458.8 670,461.2 661.2,460 655,456.2 648.8,456.2 646.2,450 646.9,442.5 640,438.8"/>
<polygon class="c0 s0" points="620,441.2 627.5,442.5 632.5,440 637.5,436.2 640,438.8 646.9,442.5 646.2,450 640,452.5 637.5,460 631.2,456.2 625,452.5 620,450"/>
<polygon class="c3 s3" points="637.5,460 640,452.5 646.2,450 648.8,456.2 655,456.2 661.2,460 663.1,465.6 657.5,467.5 652.5,468.8 650,465 640,464.4"/>
<polygon class="c8 s8" points="620,463.8 632.5,463.1 638.8,466.2 640.6,470 637.5,475 642.5,480 638.8,483.8 632.5,482.5 623.8,483.8 620,480"/>
<polygon class="c0 s0" points="676.9,463.8 681.2,458.8 685,455 690,456.2 692.5,460 690,465 685,466.2 680,468.8"/>
<polygon class="c3 s3" points="663.1,465.6 670,461.2 677.5,462.5 676.9,463.8 680,468.8 685,466.2 690,465 692.5,472.5 696.2,482.5 690,486.2 682.5,490 672.5,491.2 663.8,492.5 661.2,488.8 666.2,482.5 665,473.8"/>
<polygon class="c2 s2" points="690,465 692.5,460 695,460 711.2,451.2 707.5,463.8 706.2,470 707.5,475 712.5,481.2 715,490 720,495 720,501.2 715,503.8 705,503.1 693.8,502.5 687.5,500 678.8,500 677.5,496.2 682.5,490 690,486.2 696.2,482.5 692.5,472.5"/>
<polygon class="c1 s1" points="640,464.4 650,465 652.5,468.8 657.5,467.5 663.1,465.6 665,473.8 666.2,482.5 661.2,488.8 663.8,492.5 672.5,491.2 682.5,490 677.5,496.2 678.8,500 687.5,500 693.8,502.5 697.5,507.5 703.8,510 706.2,515 700,515 695,517.5 693.8,522.5 695,530 690,532.5 685,528.8 678.8,525 673.8,522.5 670,523.8 662.5,522.5 656.2,518.8 650,516.2 645,513.8 638.8,515 631.2,511.2 627.5,507.5 630,500 626.2,497.5 630,493.8 638.8,492.5 640.6,485 638.8,483.8 642.5,480 637.5,475 640.6,470 638.8,466.2"/>
<polygon class="c2 s2" points="693.8,502.5 705,503.1 715,503.8 720,501.2 723.8,507.5 728.8,515 725,518.8 720,525 713.8,527.5 707.5,531.2 705,536.2 700,535 696.2,532.5 695,530 693.8,522.5 695,517.5 700,515 706.2,515 703.8,510 697.5,507.5"/>
<polygon class="c1 s1" points="620,510 627.5,507.5 631.2,511.2 638.8,515 645,513.8 650,516.2 646.2,522.5 642.5,526.2 638.8,532.5 637.5,540 632.5,542.5 625,540 620,536.2"/>
<polygon class="c1 s1" points="673.8,522.5 678.8,525 685,528.8 690,532.5 695,530 696.2,532.5 700,535 705,536.2 707.5,537.5 712.5,540 720,536.2 727.5,538.8 735,541.2 737.5,537.5 745,535 751.2,532.5 755,536.2 761.2,540 770,537.5 770,570 657.5,570 656.2,557.5 661.2,550 666.2,546.2 670,540 675,532.5"/>
<polygon class="c0 s0" points="707.5,531.2 713.8,527.5 720,525 725,518.8 728.8,515 738.8,518.8 748.8,521.2 756.2,521.2 755,528.8 751.2,532.5 745,535 737.5,537.5 735,541.2 727.5,538.8 720,536.2 712.5,540 707.5,537.5 705,536.2"/>
<polygon class="c6 s6" points="756.2,521.2 762.5,522.5 770,520 770,537.5 761.2,540 755,536.2 751.2,532.5 755,528.8"/>
<polygon class="c0 s0" points="642.5,515 650,516.2 656.2,518.8 661.2,523.8 657.5,528.8 656.2,535 651.2,538.8 647.5,542.5 640,536.2 637.5,532.5 638.8,527.5 641.2,521.2"/>
<polygon class="c4 s4" points="660,525 662.5,522.5 670,523.8 673.8,522.5 675,532.5 670,540 666.2,546.2 661.2,550 656.2,557.5 650,567.5 645,570 636.2,570 631.2,561.2 633.8,555 642.5,550 648.8,545 656.2,535 657.5,528.8"/>
<polygon class="c6 s6" points="750,553.8 757.5,551.2 762.5,550 763.8,557.5 760,560 753.8,558.8"/>
<polygon class="c4 s4" points="748.8,558.8 753.8,558.8 760,560 757.5,566.2 750,565"/>
<polygon class="c6 s6" points="711.2,568.8 716.2,566.9 723.8,568.1 726.2,570 711.2,570"/>
<polygon class="c5 s5" points="710,427.5 720,428.8 730,426.2 737.5,425 740,432.5 743.8,440 747.5,445 740,448.8 737.5,453.8 730,451.2 722.5,450 715,452.5 712.5,447.5 710,435"/>
<polygon class="c4 s4" points="737.5,425 747.5,423.8 757.5,427.5 767.5,430 765,437.5 770,442.5 770,448.8 761.2,447.5 753.8,445 747.5,445 743.8,440 740,432.5"/>
<polygon class="c6 s6" points="727.5,426.2 737.5,420 770,420 767.5,430 757.5,427.5 747.5,423.8 737.5,425 730,426.2"/>
<polygon class="c7 s7" points="737.5,453.8 740,448.8 747.5,445 753.8,445 761.2,447.5 767.5,450 765,456.2 757.5,458.8 750,461.2 743.8,461.2 738.8,460"/>
<polygon class="c3 s3" points="707.5,463.8 710,457.5 712.5,447.5 715,452.5 722.5,450 730,451.2 737.5,453.8 738.8,460 740,463.8 736.2,466.2 730,470 722.5,471.2 715,473.8 708.8,475 706.2,470"/>
<polygon class="c0 s0" points="740,463.8 743.8,461.2 750,461.2 751.2,465 746.2,467.5 741.9,466.9"/>
<polygon class="c8 s8" points="708.8,475 715,473.8 722.5,471.2 730,470 736.2,466.2 738.1,471.2 732.5,473.8 726.2,476.2 722.5,480 726.2,485 723.8,491.2 721.2,495 716.2,490 712.5,481.2"/>
<polygon class="c4 s4" points="721.2,495 723.8,491.2 726.2,485 722.5,480 726.2,476.2 732.5,473.8 738.1,471.2 740,463.8 741.9,466.9 746.2,467.5 751.2,465 757.5,470 753.8,475 751.2,480 747.5,485 746.2,491.2 757.5,495 763.8,500 770,502.5 770,520 762.5,522.5 756.2,521.2 748.8,521.2 738.8,518.8 728.8,515 723.8,507.5 720,501.2"/>
<polygon class="c1 s1" points="747.5,485 751.2,480 757.5,481.2 761.2,485 763.8,491.2 762.5,497.5 757.5,495 746.2,491.2"/>
<polygon class="c3 s3" points="751.2,465 757.5,458.8 765,456.2 770,457.5 770,478.8 761.2,485 757.5,481.2 751.2,480 753.8,475 757.5,470"/>
<polygon class="c6 s6" points="763.8,497.5 770,495 770,502.5 763.8,500"/>
<polygon class="c4 s4" points="740,500 763,500 759,506 759,512 760,519 740,519"/>
<polygon class="c5 s5" points="759,506 770,500 790,500 792,508 796,515 790,516 784,521 780,518 770,515 769,519 760,519 759,512"/>
<polygon class="c0 s0" points="740,520 755,520 756,526 751,533 740,537"/>
<polygon class="c6 s6" points="751,533 756,526 757,521 763,522 768,520 770,527 775,534 774,538 762,540 755,537"/>
<polygon class="c2 s2" points="769,519 770,515 780,518 784,521 790,516 796,515 804,518 809,517 808,530 802,534 799,538 794,537 784,537 783,533 775,534 770,527"/>
<polygon class="c1 s1" points="809,517 814,517 820,525 823,534 830,538 828,542 820,547 816,545 811,548 806,544 800,540 799,538 802,534 808,530"/>
<polygon class="c4 s4" points="790,500 818,500 817,508 822,518 820,525 814,517 809,517 804,518 796,515 792,508"/>
<polygon class="c5 s5" points="818,500 824,500 828,509 840,511 850,506 857,514 860,520 860,528 853,530 845,532 844,537 840,542 836,547 830,547 828,542 830,538 823,534 820,525 822,518 817,508"/>
<polygon class="c4 s4" points="828,518 834,517 840,522 844,530 844,537 836,536 830,538 823,534 824,526"/>
<polygon class="c8 s8" points="824,500 845,500 844,504 836,508 830,511 826,507"/>
<polygon class="c7 s7" points="845,500 860,500 860,512 854,513 850,506"/>
<polygon class="c9 s9" points="844,500 850,500 848,504 845,503"/>
<polygon class="c0 s0" points="829,548 836,547 842,545 848,548 844,552 836,554 832,553"/>
<polygon class="c3 s3" points="806,555 810,548 811,548 816,545 820,547 828,542 830,547 829,548 832,553 830,558 826,560 825,568 822,568 819,570 815,573 812,572"/>
<polygon class="c5 s5" points="825,568 826,560 830,558 832,553 836,554 844,552 848,548 853,550 860,546 860,560 854,564 850,560 845,559 840,565 832,569 830,572 826,574"/>
<polygon class="c0 s0" points="832,569 840,565 845,559 850,560 854,564 860,569 860,574 852,580 847,578 840,575 836,572"/>
<polygon class="c1 s1" points="740,538 751,534 755,537 762,540 774,538 775,534 783,533 784,537 782,539 783,545 788,546 792,550 789,556 785,559 784,565 786,570 790,576 780,580 774,583 770,580 767,573 760,579 755,576 750,577 740,575"/>
<polygon class="c6 s6" points="749.5,554 755,552 761,550 764,556 763,560 757,559 752,557"/>
<polygon class="c4 s4" points="747,560 750,557 755,559 755,564 750,565"/>
<polygon class="c3 s3" points="755,560 763,560 769,562 768,566 760,566 756,564"/>
<polygon class="c5 s5" points="782,539 784,537 794,537 799,538 800,540 806,544 811,548 810,548 806,555 812,572 800,572 796,570 792,562 789,556 792,550 788,546 783,545"/>
<polygon class="c4 s4" points="784,565 785,559 789,556 792,562 796,570 800,572 790,576 786,570"/>
<polygon class="c3 s3" points="774,583 780,580 790,576 800,572 812,572 815,573 819,570 820,576 818,580 814,588 810,590 800,588 794,588 790,592 782,590 778,587"/>
<polygon class="c3 s3" points="740,577 750,577 755,576 760,579 767,573 770,580 774,583 778,587 777,596 778,602 774,606 770,610 767,620 740,620"/>
<polygon class="c6 s6" points="740,576 742,577 743,586 742,595 740,596"/>
<polygon class="c2 s2" points="778,587 782,590 790,592 794,588 800,588 810,590 814,588 818,580 820,576 823,577 820,585 816,590 814,596 816,600 810,608 804,613 796,610 790,608 784,609 780,606 778,602 777,596"/>
<polygon class="c6 s6" points="815,590 820,578 823,577 828,574 832,572 836,572 840,575 847,578 846,585 850,590 852,596 853,604 842,612 838,604 833,606 828,600 825,596 821,600 818,596"/>
<polygon class="c5 s5" points="828,583 830,576 836,575 838,580 837,588 834,593 830,592"/>
<polygon class="c9 s9" points="847,585 850,581 860,576 860,601 855,604 854,594"/>
<polygon class="c4 s4" points="804,613 810,608 816,600 818,596 821,600 825,596 828,600 825,600 822,604 829,611 834,610 838,604 842,612 833,613 828,620 804,620"/>
<polygon class="c0 s0" points="822,604 825,600 828,600 833,606 834,610 829,611"/>
<polygon class="c1 s1" points="828,620 833,613 840,612 853,605 860,608 860,620"/>
<polygon class="c2 s2" points="767,620 770,610 774,606 778,602 780,606 784,609 790,608 796,610 804,613 804,620"/>
<polygon class="c0 s0" points="782,612 787,608 793,609 796,612 792,615 785,616"/>
<polygon class="c0 s0" points="769,613 773,610 777,615 775,620 768,620"/>
<polygon class="c2 s2" points="800,400 843.8,400 837.5,406.2 823.8,416.2 815,416.2 808.8,423.8 800,431.2"/>
<polygon class="c5 s5" points="800,431.2 808.8,423.8 815,416.2 817.5,425 817.5,436.2 812.5,443.8 800,450"/>
<polygon class="c1 s1" points="800,448.8 811.2,444.4 811.9,446.2 800,452.5"/>
<polygon class="c3 s3" points="823.8,416.2 837.5,406.2 843.8,400 850,400 851.2,412.5 842.5,420 837.5,425 835,416.2 830,415 825,421.2 817.5,425 815,416.2"/>
<polygon class="c6 s6" points="817.5,436.2 817.5,425 825,421.2 830,415 835,416.2 837.5,425 841.2,435 845,443.8 837.5,441.2 833.8,437.5 828.8,440 822.5,437.5"/>
<polygon class="c3 s3" points="837.5,425 842.5,420 851.2,412.5 853.8,427.5 850,431.2 852.5,445 845,443.8 841.2,435"/>
<polygon class="c5 s5" points="848.8,400 857.5,400 865,405 868.8,410 863.8,412.5 862.5,417.5 853.8,427.5 851.2,412.5 850,403.8"/>
<polygon class="c7 s7" points="853.8,427.5 862.5,417.5 870,422.5 875,423.8 873.8,430 881.2,436.2 877.5,441.2 876.2,447.5 872.5,452.5 867.5,446.2 862.5,445 858.8,450 857.5,457.5 852.5,452.5 852.5,445 850,431.2"/>
<polygon class="c6 s6" points="875,423.8 880,418.8 886.2,411.2 895,408.8 900,411.2 906.2,412.5 915,417.5 912.5,422.5 903.8,423.8 906.2,430 900,432.5 892.5,437.5 887.5,442.5 882.5,447.5 876.2,452.5 872.5,452.5 876.2,447.5 877.5,441.2 881.2,436.2 873.8,430"/>
<polygon class="c8 s8" points="903.8,423.8 912.5,422.5 915,417.5 920,413.8 931.2,417.5 928.8,425.6 920,429.4 910,428.8 906.2,430.6"/>
<polygon class="c8 s8" points="857.5,457.5 858.8,450 862.5,445 867.5,446.2 872.5,452.5 874.4,456.2 870,462.5 863.8,465 860,462.5"/>
<polygon class="c7 s7" points="812.5,443.8 817.5,436.2 822.5,437.5 828.8,440 833.8,437.5 837.5,441.2 845,443.8 852.5,445 852.5,452.5 857.5,457.5 860,462.5 863.8,465 860,470 855,473.8 850,477.5 846.2,485 848.8,492.5 846.2,500 842.5,505 835,508.8 828.8,511.2 823.8,502.5 827.5,497.5 826.2,487.5 827.5,482.5 817.5,480 813.8,475 817.5,472.5 818.8,468.8 815,456.2"/>
<polygon class="c4 s4" points="800,452.5 811.9,446.2 815,452.5 825,455 836.2,457.5 841.2,470 842.5,475 832.5,477.5 830,472.5 825,467.5 818.8,468.8 817.5,472.5 813.8,475 800,475"/>
<polygon class="c9 s9" points="845,485 850,483.8 856.2,480 863.8,478.1 866.2,485 860,490 858.8,498.8 855,502.5 848.8,502.5 845,503.8 848.8,493.8 848.8,487.5"/>
<polygon class="c8 s8" points="855,473.8 860,470 863.8,465 868.1,466.9 873.8,471.9 881.2,475.6 888.8,481.2 893.8,492.5 898.8,503.8 901.2,515 892.5,515 886.2,512.5 885,503.8 877.5,501.2 872.5,495 873.8,488.8 867.5,485 866.2,485 863.8,478.1 856.2,480"/>
<polygon class="c7 s7" points="858.8,498.8 860,490 866.2,485 867.5,485 873.8,488.8 872.5,495 870,500 866.2,502.5 868.8,507.5 861.2,512.5 855,513.8 850,507.5 848.8,502.5 855,502.5"/>
<polygon class="c8 s8" points="823.8,502.5 830,497.5 836.2,500 845,503.8 848.8,502.5 850,507.5 841.2,508.8 835,512.5 828.8,512.5"/>
<polygon class="c0 s0" points="818.1,491.2 822.5,486.2 826.9,485 826.9,500 823.8,498.8 820,496.2"/>
<polygon class="c4 s4" points="800,475 813.8,475 815,480 817.5,480 822.5,486.2 818.1,491.2 820,496.2 823.8,498.8 823.8,502.5 818.8,508.8 807.5,512.5 800,515"/>
<polygon class="c5 s5" points="818.8,508.8 823.8,502.5 828.8,512.5 835,512.5 841.2,508.8 850,507.5 855,513.8 861.2,512.5 856.2,517.5 857.5,525 852.5,530 847.5,530 843.8,537.5 837.5,545 830,550 825,547.5 822.5,525"/>
<polygon class="c1 s1" points="800,515 807.5,512.5 818.8,508.8 822.5,525 825,547.5 812.5,550 800,550"/>
<polygon class="c2 s2" points="800,516.2 807.5,515 808.8,525 800,532.5"/>
<polygon class="c6 s6" points="868.8,507.5 866.2,502.5 870,500 872.5,495 877.5,501.2 885,503.8 886.2,512.5 887.5,525 880,530 877.5,525 875,512.5"/>
<polygon class="c5 s5" points="861.2,512.5 868.8,507.5 875,512.5 877.5,525 880,530 875,520 866.2,516.2"/>
<polygon class="c5 s5" points="886.2,512.5 892.5,515 901.2,515 908.8,518.8 913.8,526.2 918.8,535 917.5,541.2 910,537.5 905,532.5 900,537.5 895,541.2 890,537.5 887.5,525"/>
<polygon class="c3 s3" points="852.5,530 857.5,525 856.2,517.5 861.2,512.5 866.2,516.2 875,520 880,530 875,532.5 870,530 867.5,536.2 862.5,541.2 858.8,535 855,532.5"/>
<polygon class="c6 s6" points="867.5,536.2 870,530 875,532.5 880,530 887.5,525 890,537.5 895,541.2 890,545 885,550 872.5,550 866.2,542.5"/>
<polygon class="c5 s5" points="895,541.2 900,537.5 905,532.5 910,537.5 917.5,541.2 921.2,542.5 918.8,550 885,550 890,545"/>
<polygon class="c5 s5" points="843.8,537.5 847.5,530 852.5,530 855,532.5 858.8,535 862.5,541.2 866.2,542.5 872.5,550 830,550 837.5,545"/>
<polygon class="c6 s6" points="845,531.2 855,532.5 858.8,535 861.2,542.5 850,540"/>
<polygon class="c0 s0" points="830,547.5 841.2,545 846.2,550 828.8,550"/>
<polygon class="c5 s5" points="840,520 859,520 853,527 850,529 844,531 845,540 840,545"/>
<polygon class="c3 s3" points="853,527 859,520 880,520 880,526 878,531 873,533 870,531 869,537 866,543 860,543 859,538 857,533"/>
<polygon class="c6 s6" points="870,531 873,533 878,531 880,526 880,520 887,520 889,526 885,530 883,535 875,537 873,543 868,542 866,540 869,537"/>
<polygon class="c5 s5" points="887,520 909,520 911,524 915,527 918,532 918,538 921,541.5 918,544 917,548 919,554 912,553.5 908,555 902,557.5 897,563 894,561 887,559 890,553 885,550 880,545 876,545 873,543 875,537 883,535 885,530 889,526"/>
<polygon class="c4 s4" points="887,559 890,553 896,549 900,553 904,555 902,557.5 897,563 894,561"/>
<polygon class="c5 s5" points="869,560 870,555 875,550 876,545 880,545 885,550 890,553 887,559 883,559 877,558 872,561"/>
<polygon class="c6 s6" points="844,531 850,529 853,527 857,533 859,538 860,543 855,546 850,544 845,540"/>
<polygon class="c4 s4" points="840,545 845,540 850,544 855,546 860,543 866,543 868,542 873,543 876,545 875,550 870,555 869,560 863,562 861,568 856,570 853,565 850,560 846,558 840,562"/>
<polygon class="c0 s0" points="840,547 844,545 848,549 844,553 840,552"/>
<polygon class="c0 s0" points="840,566 846,558 850,560 853,565 856,570 861,568 862,572 857,576 851,580 846,578 840,577"/>
<polygon class="c7 s7" points="851,580 857,576 862,572 861,568 863,562 869,560 872,561 877,558 883,559 887,559 894,561 892,564 887,567 883,572 880,575 878,574 875,579 870,581 867,584 862,582 858,584 854,581"/>
<polygon class="c5 s5" points="880,575 883,572 887,567 892,564 897,563 900,569 901,576 903,580 900,584 896,582 894,584 890,579 887,581 884,578"/>
<polygon class="c7 s7" points="897,563 902,557.5 906,560 911,564 915,568 918,572 917,576 918,580 919,585 914,588 910,585 906,586 903,580 901,576 900,569"/>
<polygon class="c9 s9" points="847,585 850,581 854,581 858,584 862,582 867,584 869,589 869,593 864,595 860,598 858,603 855,604 854,598 851,592"/>
<polygon class="c8 s8" points="867,584 870,581 875,579 878,574 880,575 884,578 887,581 890,579 894,584 895,588 892,591 887,592 884,590 880,594 875,598 872,594 869,593 869,589"/>
<polygon class="c6 s6" points="887,592 892,591 895,588 894,584 896,582 900,584 903,580 906,586 910,585 915,588 913,592 913,597 911,600 909,603 905,607 902,606 902,600 897,598 892,597 888,598"/>
<polygon class="c4 s4" points="858,603 860,598 864,595 869,593 872,594 875,598 880,594 884,590 887,592 888,598 889,603 887,608 883,610 878,611 877,616 873,617 870,620 864,620 862,615 860,609"/>
<polygon class="c3 s3" points="877,616 878,611 883,610 887,608 889,603 888,598 892,597 897,598 902,600 902,606 905,607 903,610 900,613 897,616 895,620 893,624 890,622 885,621 880,624 877,621"/>
<polygon class="c6 s6" points="840,578 846,578 851,580 850,581 847,585 851,592 854,598 855,604 852,606 846,610 840,613"/>
<polygon class="c2 s2" points="840,613 846,610 852,606 855,604 858,603 860,609 862,615 864,620 870,620 873,617 877,616 877,621 880,624 885,621 890,622 893,624 891,629 888,632 885,635 885,640 840,640"/>
<polygon class="c7 s7" points="740,400 755,400 753,406 749,410 744,415 740,414"/>
<polygon class="c0 s0" points="755,400 767,400 773,405 774,411 764,410 761,405"/>
<polygon class="c6 s6" points="740,414 744,415 749,410 753,406 755,400 761,405 764,410 774,411 776,412 773,418 769,426 760,428 750,424 745,426 740,425"/>
<polygon class="c4 s4" points="740,425 745,426 750,424 760,428 769,426 765,432 767,437 769,442 765,445 760,447 750,445 744,440 740,441"/>
<polygon class="c5 s5" points="740,441 744,440 748,443 746,447 740,448"/>
<polygon class="c7 s7" points="740,448 746,447 750,445 760,447 765,445 768,447 767,453 761,458 755,461 745,461.5 740,460"/>
<polygon class="c0 s0" points="740,462 750,462 751,465 746,467 740,467"/>
<polygon class="c3 s3" points="773,405 767,400 844,400 835,408 823,409 815,416 809,420 805,418 800,412 794,409 789,412 780,414 776,412"/>
<polygon class="c2 s2" points="810,400 844,400 835,408 823,409 819,406 814,406"/>
<polygon class="c4 s4" points="773,418 776,412 780,414 789,412 794,409 800,412 805,418 804,425 798,426 790,426 784,429 778,426 773,429 769,426"/>
<polygon class="c3 s3" points="765,432 769,426 773,429 778,426 784,429 790,426 798,426 804,425 800,433 797.5,438 799,443 792,443 783,442 775,440 770,440 767,437"/>
<polygon class="c2 s2" points="809,420 815,416 823,409 835,408 840,404 844,400 850,402 852,410 848,413 840,417 835,420 833,416 828,418 826,426 823,433 819,437 817,430 818,426 813,428"/>
<polygon class="c3 s3" points="835,408 844,400 850,402 852,410 848,413 840,417 835,420 833,416"/>
<polygon class="c3 s3" points="840,417 848,413 860,415 860,430 854,433 850,430 844,424 838,423"/>
<polygon class="c5 s5" points="800,433 804,428 809,420 813,428 818,426 817,430 819,437 812,443 810,444.5 801,448 799,443 797.5,438"/>
<polygon class="c7 s7" points="812,443 819,437 823,441 830,440 834,437 837,430 840,435 844,442 850,444 854,433 860,430 860,470 854,474 850,477 848,474 844,474 842,470 840,464 836,458 837,453 834,451 828,450 822,449 818,450 814,448"/>
<polygon class="c6 s6" points="826,426 828,418 833,416 835,420 837,430 834,437 830,440 823,441 819,437 823,433"/>
<polygon class="c4 s4" points="790,464 797,457 804,450 811.5,445.5 814,448 818,450 822,449 828,450 834,451 837,453 836,458 830,460 825,464 825,468 820,469 817,470 814,476 810,475 801,475 800,473 794,467"/>
<polygon class="c5 s5" points="825,464 830,460 836,458 840,464 842,470 840,474 834,476 831,477 828,471 825,468"/>
<polygon class="c5 s5" points="769,442 770,440 775,440 783,442 792,443 790,450 791,456 794,458 790,464 784,462 780,463 775,464 767,464 765,459 767,453 768,447"/>
<polygon class="c4 s4" points="770,441 775,440 783,442 790,444 789,452 781,454 774,450 769,451"/>
<polygon class="c0 s0" points="774.5,447 777,445 779,449 784,449 787,451 782,455 779,456 775,452"/>
<polygon class="c1 s1" points="790,450 792,443 800,444 801,448 810,444.5 812,445.5 805,449 799,454 794,458 791,456"/>
<polygon class="c4 s4" points="753,470 765,468 767,464 775,464 780,463 784,462 790,464 794,467 800,473 801,475 810,475 814,476 818,481 821,485 820,490 814,492 810,488 806,486 803,487 802,493 798,498 797,504 791,505 787,502 780,498 779,490 776,488 773,490 766,496 759,505 752,500 746,493 743,490 748,485 753,480"/>
<polygon class="c3 s3" points="753,470 765,468 775,469 788,470 789,479 778,483 760,480"/>
<polygon class="c2 s2" points="740,460 755,461 761,458 765,459 767,464 765,468 753,470 740,470"/>
<polygon class="c1 s1" points="743,490 748,485 750,480 760,481 763,488 766,496 763,500 755,494 749,493"/>
<polygon class="c6 s6" points="764,497 769,490 773,487 776,488 779,496 774,498 770,500"/>
<polygon class="c5 s5" points="759,505 766,496 770,500 774,498 779,496 780,498 787,502 791,505 795,511 796,516 802,520 760,520"/>
<polygon class="c4 s4" points="791,505 797,504 798,498 802,493 803,487 806,486 810,488 814,492 820,490 823,500 822,506 817,508 810,510 804,513 802,520 796,516 795,511"/>
<polygon class="c7 s7" points="814,476 817,470 820,469 825,468 828,471 831,477 834,476 840,474 842,470 844,474 848,474 850,477 846,484 850,491 849,494 842,493 840,487 828,483 826,487 822,485 818,481"/>
<polygon class="c0 s0" points="818,490 823,486 826,485 827,500 824,500 820,496"/>
<polygon class="c7 s7" points="826,487 828,483 840,487 842,493 849,494 845,502 835,498 828,496"/>
<polygon class="c7 s7" points="846,484 850,477 855,474 860,472 860,479 850,484"/>
<polygon class="c9 s9" points="846,485 850,483 856,480 860,478 860,501 850,503 845,502 849,494 850,491"/>
<polygon class="c8 s8" points="824,500 827,500 828,496 835,498 845,502 850,506 840,510 830,512 825,508"/>
<polygon class="c5 s5" points="802,520 804,513 810,510 817,508 822,506 825,508 830,512 840,510 850,506 851,513 860,513 860,520"/>
<polygon class="c7 s7" points="850,506 850,503 860,501 860,513 851,513"/>
<polygon class="c7 s7" points="868.8,318.8 873.1,316.2 877.5,320 882.5,329.4 887.5,323.8 895,318.8 900,320 903.8,326.2 898.8,332.5 893.8,340 887.5,342.5 880,345 873.8,347.5 868.1,351.9 862.5,347.5 862.5,343.8 867.5,338.8 870,335"/>
<polygon class="c0 s0" points="660,600 690,600 690.8,610 689.2,618.3 683.3,625 681.7,620 670,623.3 660,626.7"/>
<polygon class="c4 s4" points="660,626.7 670,623.3 681.7,620 683.3,625 686.7,630 693.3,635 695,641.7 691.7,650 685,656.7 676.7,663.3 668.3,655 666.7,643.3 660,640"/>
<polygon class="c0 s0" points="660,640 666.7,643.3 668.3,655 676.7,663.3 678.3,670 683.3,675 681.7,683.3 688.3,686.7 700,683.3 710,685 713.3,693.3 710,703.3 703.3,710 696.7,716.7 695,730 698.3,738.3 698.3,745 685,745 670,743.3 660,741.7"/>
<polygon class="c0 s0" points="738.3,678.3 743.3,683.3 750,690 753.3,700 750,710 743.3,716.7 740,726.7 743.3,733.3 738.3,738.3 730,743.3 715,748.3 710,751.7 713.3,766.7 708.3,768.3 700,770 697.5,760 695.8,750 698.3,743.3 700,740 706.7,736.7 708.3,730 715,726.7 716.7,720 723.3,716.7 726.7,710 728.3,700 733.3,693.3 736.7,685"/>
<polygon class="c1 s1" points="678.3,670 676.7,663.3 685,656.7 691.7,650 700,650 705,646.7 710,648.3 715,644.2 721.7,643.3 725.8,650 728.3,655 725,663.3 720.8,670 723.3,675 728.3,668.3 731.7,676.7 726.7,678.3 721.7,690 716.7,693.3 710,685 700,683.3 688.3,686.7 681.7,683.3 683.3,675"/>
<polygon class="c2 s2" points="710,685 716.7,693.3 721.7,690 726.7,678.3 731.7,676.7 738.3,678.3 736.7,685 733.3,693.3 728.3,700 726.7,710 723.3,716.7 716.7,720 713.3,703.3 713.3,693.3"/>
<polygon class="c1 s1" points="696.7,716.7 703.3,710 710,703.3 713.3,703.3 716.7,720 715,726.7 708.3,730 706.7,736.7 700,740 698.3,738.3 695,730"/>
<polygon class="c1 s1" points="690,600 715,600 718.3,606.7 716.7,615 710,620 703.3,628.3 700,638.3 705,646.7 700,650 691.7,650 695,641.7 693.3,635 686.7,630 683.3,625 689.2,618.3 690.8,610"/>
<polygon class="c3 s3" points="715,600 778.3,600 776.7,605 771.7,610 768.3,616.7 760,610 753.3,613.3 746.7,621.7 740,613.3 733.3,608.3 726.7,605 718.3,606.7"/>
<polygon class="c6 s6" points="716.7,615 718.3,606.7 726.7,605 733.3,608.3 740,613.3 746.7,621.7 740,625 735,620 726.7,618.3 721.7,616.7"/>
<polygon class="c4 s4" points="700,638.3 703.3,628.3 710,620 716.7,615 721.7,616.7 726.7,618.3 735,620 740,625 738.3,630 730,631.7 725,636.7 723.3,643.3 715,644.2 710,648.3 705,646.7"/>
<polygon class="c0 s0" points="738.3,630 740,625 746.7,621.7 753.3,625 758.3,633.3 756.7,641.7 750,645 743.3,645 740,638.3"/>
<polygon class="c1 s1" points="723.3,643.3 725,636.7 730,631.7 738.3,630 740,638.3 743.3,645 743.3,655 746.7,663.3 743.3,667.5 740,671.7 738.3,678.3 731.7,676.7 728.3,668.3 725,663.3 728.3,655 725.8,650"/>
<polygon class="c2 s2" points="743.3,645 750,645 756.7,641.7 758.3,633.3 753.3,625 746.7,621.7 753.3,613.3 760,610 768.3,616.7 770.8,623.3 771.7,631.7 775,638.3 777.5,647.5 774.2,653.3 773.3,662.5 766.7,664.2 760,660.8 755,664.2 756.7,670 753.3,673.3 750.8,668.3 743.3,667.5 746.7,663.3 743.3,655"/>
<polygon class="c1 s1" points="773.3,662.5 774.2,653.3 777.5,647.5 775,638.3 771.7,631.7 770.8,623.3 768.3,616.7 771.7,610 776.7,605 778.3,600 810,600 805,610 803.3,620 810,626.7 816.7,638.3 820,640 818.3,650 813.3,655 808.3,665 806.7,671.7 801.7,676.7 791.7,677.5 783.3,680.8 780,678.3 783.3,671.7 787.5,668.3 786.7,663.3 780,664.2"/>
<polygon class="c0 s0" points="783.3,610 790,606.7 796.7,610 793.3,616.7 786.7,616.7"/>
<polygon class="c0 s0" points="768.3,615 773.3,611.7 776.7,618.3 775,626.7 771.7,625"/>
<polygon class="c4 s4" points="803.3,620 805,610 810,600 826.7,600 830,608.3 831.7,616.7 828.3,616.7 830,625 821.7,631.7 820,640 816.7,638.3 810,626.7"/>
<polygon class="c6 s6" points="833.3,600 851.7,600 851.7,605 843.3,610 836.7,610"/>
<polygon class="c2 s2" points="820,640 821.7,631.7 830,625 828.3,616.7 835,611.7 843.3,610 851.7,605 860,600 860,656.7 853.3,661.7 843.3,656.7 836.7,658.3 830,650 823.3,648.3"/>
<polygon class="c3 s3" points="823.3,648.3 830,633.3 843.3,635 856.7,643.3 853.3,656.7 843.3,656.7 836.7,658.3 830,650"/>
<polygon class="c1 s1" points="806.7,671.7 808.3,665 813.3,655 818.3,650 823.3,648.3 830,650 836.7,658.3 843.3,656.7 843.3,666.7 836.7,670 828.3,673.3 825,681.7 816.7,677.5"/>
<polygon class="c0 s0" points="825,681.7 828.3,673.3 836.7,670 843.3,666.7 843.3,673.3 850,678.3 845,688.3 838.3,695 831.7,701.7 826.7,690.8"/>
<polygon class="c4 s4" points="843.3,673.3 851.7,671.7 855,676.7 850,678.3"/>
<polygon class="c0 s0" points="853.3,656.7 860,655 860,666.7 855,665"/>
<polygon class="c6 s6" points="800.8,678.3 806.7,672.5 816.7,677.5 825,681.7 822.5,690 818.3,695 815,700 814.2,708.3 810,713.3 806.7,706.7 801.7,701.7 799.2,693.3"/>
<polygon class="c4 s4" points="814.2,708.3 815,700 818.3,695 822.5,690 825,681.7 826.7,690.8 831.7,701.7 825,705 820,711.7 815.8,713.3"/>
<polygon class="c1 s1" points="753.3,673.3 756.7,670 755,664.2 760,660.8 766.7,664.2 773.3,662.5 780,664.2 786.7,663.3 787.5,668.3 783.3,671.7 780,678.3 783.3,680.8 791.7,677.5 801.7,676.7 800.8,678.3 799.2,693.3 801.7,701.7 793.3,705 788.3,706.7 785,700 780,693.3 775,691.7 770,700 761.7,693.3 756.7,683.3 753.3,678.3"/>
<polygon class="c2 s2" points="738.3,678.3 740,671.7 743.3,667.5 750.8,668.3 753.3,673.3 753.3,678.3 756.7,683.3 761.7,693.3 770,700 771.7,708.3 770,716.7 766.7,720 760,723.3 755,730 750,733.3 743.3,735 740,726.7 743.3,716.7 750,710 753.3,700 750,690 743.3,683.3"/>
<polygon class="c1 s1" points="740,726.7 743.3,716.7 750,710 755,716.7 760,723.3 755,730 750,733.3 743.3,735"/>
<polygon class="c0 s0" points="758.3,726.7 763.3,723.3 766.7,726.7 761.7,733.3"/>
<polygon class="c4 s4" points="770,700 775,691.7 780,693.3 785,700 788.3,706.7 793.3,705 801.7,701.7 806.7,706.7 810,713.3 803.3,716.7 796.7,715 790,718.3 783.3,721.7 776.7,723.3 771.7,721.7 770,716.7 771.7,708.3"/>
<polygon class="c3 s3" points="793.3,705 801.7,701.7 806.7,706.7 810,713.3 803.3,716.7 796.7,715"/>
<polygon class="c2 s2" points="730,563.8 737.5,552.5 737.5,540 763.8,540 763.8,547.5 777.5,543.8 785,552.5 790,547.5 783.8,560 785,571.2 790,576.2 772.5,586.2 767.5,573.8 756.2,577.5 742.5,577.5 733.8,570"/>
<polygon class="c6 s6" points="749.4,553.8 755,551.9 762.5,550 763.8,559.4 757.5,560 752.5,556.9"/>
<polygon class="c4 s4" points="747.5,558.8 752.5,556.9 757.5,560 755,565 748.8,563.8"/>
<polygon class="c0 s0" points="720,670 727.5,667.5 735,672.5 738.8,677.5 737.5,690 713.8,690 718.8,680"/>
<polygon class="c0 s0" points="660,660 672.5,662.5 677.5,665 685,672.5 682.5,680 683.8,690 660,690"/>
<polygon class="c7 s7" points="920,230 936.2,230 938.8,236.2 932.5,241.2 922.5,245 920,243.8"/>
<polygon class="c5 s5" points="936.2,230 951.2,230 953.8,238.8 951.2,237.5 938.8,236.2"/>
<polygon class="c7 s7" points="951.2,230 973.8,230 970,240 978.8,242.5 985,252.5 980,253.8 970,252.5 961.2,252.5 955,246.2 953.8,238.8"/>
<polygon class="c3 s3" points="970,240 973.8,230 1001.2,230 1001.2,235 995,243.8 985,252.5 978.8,242.5"/>
<polygon class="c6 s6" points="985,252.5 995,243.8 1001.2,235 1007.5,230 1063.8,230 1063.8,243.8 1057.5,242.5 1050,246.2 1045,251.2 1045,261.2 1038.8,266.2 1032.5,270 1030,273.8 1023.8,281.2 1020,280 1015,271.2 1007.5,268.8 1005,261.2 995,260 990,257.5"/>
<polygon class="c8 s8" points="1032.5,270 1038.8,266.2 1045,261.2 1045,251.2 1050,246.2 1057.5,242.5 1063.8,243.8 1067.5,252.5 1070,255 1070,283.8 1061.2,282.5 1057.5,285 1047.5,286.2 1046.2,291.2 1041.2,292.5 1037.5,283.8 1033.8,273.8"/>
<polygon class="c5 s5" points="920,255 922.5,245 932.5,241.2 938.8,236.2 951.2,237.5 953.8,238.8 955,246.2 961.2,252.5 957.5,255 950,260 942.5,265 938.8,272.5 932.5,275 923.8,277.5 920,267.5"/>
<polygon class="c3 s3" points="938.8,272.5 942.5,265 950,260 957.5,255 961.2,252.5 970,252.5 980,253.8 985,252.5 990,257.5 995,260 990,266.2 982.5,262.5 972.5,266.2 963.8,270 965,280 957.5,282.5 955,286.2 945,280 942.5,282.5"/>
<polygon class="c6 s6" points="920,267.5 923.8,277.5 932.5,275 938.8,272.5 942.5,282.5 945,292.5 946.2,300 936.2,303.8 925,307.5 920,308.8"/>
<polygon class="c5 s5" points="963.8,270 972.5,266.2 982.5,262.5 990,266.2 995,260 1005,261.2 1007.5,268.8 997.5,272.5 995,280 987.5,285 988.8,295 983.8,296.2 978.8,290 972.5,290 968.8,295 965,290 955,286.2 957.5,282.5 965,280"/>
<polygon class="c2 s2" points="942.5,282.5 945,280 955,286.2 965,290 968.8,295 967.5,301.2 962.5,305 960,301.2 951.2,295 945,292.5"/>
<polygon class="c3 s3" points="987.5,285 995,280 997.5,272.5 1007.5,268.8 1015,271.2 1020,280 1023.8,287.5 1020,295 1016.2,301.2 1018.8,306.2 1016.2,310 1010,306.2 1002.5,307.5 997.5,315 992.5,323.8 997.5,332.5 995,338.8 987.5,345 983.8,342.5 983.8,337.5 977.5,325 980,321.2 976.2,317.5 982.5,311.2 985,305 982.5,300 983.8,296.2 988.8,295"/>
<polygon class="c3 s3" points="968.8,295 972.5,290 978.8,290 983.8,296.2 982.5,300 985,305 980,301.2 973.8,298.8 968.8,302.5 967.5,301.2"/>
<polygon class="c6 s6" points="968.8,302.5 973.8,298.8 980,301.2 985,305 982.5,311.2 976.2,317.5 972.5,312.5"/>
<polygon class="c7 s7" points="945,315 948.8,305 946.2,300 945,292.5 951.2,295 960,301.2 962.5,305 967.5,301.2 968.8,302.5 972.5,312.5 970,316.2 962.5,317.5 961.2,322.5 948.8,322.5"/>
<polygon class="c8 s8" points="992.5,323.8 997.5,315 1002.5,307.5 1010,306.2 1012.5,310 1016.2,311.2 1020,307.5 1026.2,312.5 1022.5,317.5 1027.5,326.2 1031.2,333.8 1028.8,335 1017.5,335 1010,332.5 1006.2,328.8 1000,331.2 997.5,332.5"/>
<polygon class="c1 s1" points="1016.2,301.2 1020,295 1023.8,287.5 1023.8,281.2 1030,273.8 1033.8,273.8 1037.5,283.8 1041.2,292.5 1046.2,291.2 1047.5,286.2 1057.5,285 1061.2,282.5 1070,283.8 1070,311.2 1065,305 1060,305 1056.2,315 1050,316.2 1045,321.2 1040,323.8 1028.8,323.8 1027.5,326.2 1022.5,317.5 1026.2,312.5 1020,307.5 1018.8,306.2"/>
<polygon class="c3 s3" points="920,310 925,307.5 936.2,303.8 946.2,300 948.8,305 945,315 948.8,322.5 947.5,330 936.2,330 928.8,333.8 925,325 920,322.5"/>
<polygon class="c1 s1" points="920,322.5 925,321.2 926.2,330 923.8,337.5 920,337.5"/>
<polygon class="c2 s2" points="928.8,333.8 936.2,330 947.5,330 946.2,340 938.8,348.8 936.2,342.5"/>
<polygon class="c4 s4" points="947.5,330 948.8,322.5 961.2,322.5 962.5,317.5 970,316.2 973.8,315 978.8,322.5 976.2,326.2 982.5,337.5 985,342.5 982.5,346.2 975,341.2 963.8,341.2 956.2,343.8 946.2,350 946.2,340"/>
<polygon class="c3 s3" points="970,316.2 972.5,312.5 976.2,317.5 980,321.2 977.5,325 983.8,337.5 983.8,342.5 987.5,345 995,338.8 1000,333.8 990,342.5 983.8,348.8 982.5,346.2 985,342.5 982.5,337.5 976.2,326.2 978.8,322.5 973.8,315"/>
<polygon class="c7 s7" points="946.2,350 956.2,343.8 963.8,341.2 975,341.2 982.5,346.2 978.8,351.2 970,357.5 962.5,366.2 956.2,370 945,368.8 942.5,365 947.5,357.5"/>
<polygon class="c5 s5" points="920,337.5 923.8,337.5 926.2,330 928.8,333.8 936.2,342.5 938.8,348.8 946.2,350 947.5,357.5 942.5,365 945,368.8 932.5,375 920,381.2"/>
<polygon class="c4 s4" points="922.5,355 932.5,350 935,360 927.5,365 921.2,362.5"/>
<polygon class="c5 s5" points="1000,140 1009.3,140 1013.3,146.7 1018.7,156 1020,164 1022.7,166.7 1032,167.3 1040,168 1046.7,172.7 1048,178.7 1052,181.3 1045.3,189.3 1041.3,193.3 1032,193.3 1029.3,198.7 1022.7,201.3 1013.3,204 1000,208"/>
<polygon class="c3 s3" points="1000,208 1013.3,204 1022.7,201.3 1029.3,198.7 1032,206.7 1034.7,213.3 1026.7,218.7 1020,221.3 1025.3,226.7 1020,229.3 1010.7,228 1000,236"/>
<polygon class="c7 s7" points="1046.7,171.3 1052,170.7 1057.3,174.7 1062.7,178.7 1068,182 1074.7,182.7 1074,189.3 1077.3,193.3 1068,193.3 1058.7,196 1056,202.7 1058.7,208 1058.7,216 1053.3,221.3 1052,228 1042.7,230.7 1033.3,229.3 1025.3,226.7 1020,221.3 1026.7,218.7 1034.7,213.3 1032,206.7 1029.3,198.7 1032,193.3 1041.3,193.3 1045.3,189.3 1052,181.3 1048,178.7"/>
<polygon class="c5 s5" points="1056,202.7 1058.7,196 1068,193.3 1077.3,193.3 1076,198.7 1080,204 1082.7,205.3 1093.3,205.3 1106.7,204.7 1098.7,213.3 1086.7,216 1078.7,216 1072,214.7 1066.7,220 1058.7,216 1058.7,208"/>
<polygon class="c3 s3" points="1053.3,221.3 1058.7,216 1066.7,220 1072,214.7 1078.7,216 1086.7,216 1098.7,213.3 1106.7,204.7 1109.3,201.3 1117.3,197.3 1128,194.7 1140,191.3 1154.7,190.7 1146.7,197.3 1145.3,202.7 1148.7,206 1145.3,210 1141.3,204 1133.3,206.7 1125.3,210.7 1120,214.7 1118.7,221.3 1113.3,225.3 1104,222.7 1097.3,221.3 1088,220 1074.7,224 1073.3,228 1080,233.3 1085.3,237.3 1089.3,238.7 1082.7,242.7 1074.7,242.7 1064,240 1062.7,233.3 1064,229.3 1056,228 1052,228"/>
<polygon class="c0 s0" points="1073.3,228 1074.7,224 1088,220 1097.3,221.3 1104,222.7 1113.3,225.3 1118.7,221.3 1120,214.7 1125.3,210.7 1133.3,206.7 1141.3,204 1145.3,210 1138.7,214 1136,220 1134.7,228 1130.7,230.7 1120,230.7 1117.3,233.3 1110.7,238.7 1102.7,241.3 1101.3,244 1093.3,245.3 1088,244 1085.3,248 1074.7,249.3 1064,246.7 1064,240 1074.7,242.7 1082.7,242.7 1089.3,238.7 1085.3,237.3 1080,233.3"/>
<polygon class="c5 s5" points="1068,258.7 1074.7,249.3 1085.3,248 1088,244 1093.3,245.3 1101.3,244 1102.7,241.3 1110.7,238.7 1117.3,233.3 1120,230.7 1130.7,230.7 1134.7,228 1133.3,234.7 1129.3,240 1126.7,249.3 1120,253.3 1118.7,258.7 1114.7,263.3 1106.7,260 1096,257.3 1086.7,264 1080,266.7"/>
<polygon class="c6 s6" points="1000,236 1010.7,228 1020,229.3 1025.3,226.7 1033.3,229.3 1042.7,230.7 1052,228 1056,228 1064,229.3 1062.7,233.3 1064,240 1057.3,242.7 1050.7,245.3 1045.3,249.3 1045.3,256 1041.3,262.7 1038.7,268 1032,270.7 1028,276 1022.7,281.3 1017.3,273.3 1008,269.3 1005.3,260 1000,257.3"/>
<polygon class="c8 s8" points="1032,270.7 1038.7,268 1041.3,262.7 1045.3,256 1045.3,249.3 1050.7,245.3 1057.3,242.7 1064,240 1064,246.7 1074.7,249.3 1068,258.7 1080,266.7 1084,273.3 1085.3,284 1085.3,293.3 1074.7,290.7 1068,282.7 1058.7,284 1049.3,286.7 1046.7,292 1041.3,290.7 1038.7,282.7 1034.7,276"/>
<polygon class="c1 s1" points="1022.7,281.3 1028,276 1032,270.7 1034.7,276 1038.7,282.7 1041.3,290.7 1046.7,292 1049.3,286.7 1058.7,284 1068,282.7 1074.7,290.7 1085.3,293.3 1086.7,300 1017.3,300 1021.3,286.7"/>
<polygon class="c3 s3" points="1000,272 1008,269.3 1017.3,273.3 1022.7,281.3 1021.3,286.7 1017.3,300 1000,300"/>
<polygon class="c5 s5" points="1000,257.3 1005.3,260 1008,269.3 1000,272"/>
</g></g>
<polyline class="b" points="146.2,479.5 160,477.5 162.5,470 168.8,458.8 180,460 190,461.2 200,460 206.2,453 215,452.5 220,458.8 230,459.5 240,458.8 247.5,453.8 257.5,450.8 263.8,452.5 273.8,447.5 275,442.5 290,440 300,437.5 315,436.2 322.5,440 332.5,441.2 340,445"/>
<polyline class="b" points="340,443.8 343.8,441.2 362.5,443.8 362.5,437.5 356.2,433.8 357.5,428.8 366.2,423.8 362.5,416.2 352.5,411.2 352.5,400 345,396.2 360,390 375,386.2 386.2,383.2"/>
<polyline class="b" points="386.2,383.2 385,380 390,372.5 393.8,362.5 396.2,352.5 410,351.2 415,342.5 425,335 435,328.8 437.5,332.5 443.8,327.5 453.8,323.8 451.2,313.8 457.5,308.2"/>
<polyline class="b" points="386.2,383.2 397.5,381.2 402.5,386.2 411.2,387.5 421.2,390 425,397.5 438.8,396.2 445,398.8 455,402.5 462.5,395 468.8,391.2 470,381.2 477.5,381.2"/>
<polyline class="b" points="477.5,381.2 481.7,385 488.3,388.3 493.3,385 500,383.3 508.3,388.3 516.7,393.3 526.7,396.7 535,401.7 541.7,405 550,408.3 560,411.7 568.3,425 573.3,428.3 576.7,438.3 573.3,448.3 571.7,455 565,456.7 564.2,463.3 557.5,470 558.3,476.7 562.5,480"/>
<polyline class="b" points="472.5,307.5 475,315 480,325 485,331.2 478.8,335 492.5,345 493.8,352.5 500,348.8 510,347.5 518.8,345 526.2,347.5 527.5,352.5 523.8,360 520,363.8 512.5,367"/>
<polyline class="b" points="513.3,367.5 516.7,366.7 526.7,370 531.7,375 538.3,380 543.3,385 550,391.7 556.7,386.7 555,383.3 566.7,380 576.7,381.7 586.7,376.7 595,375.8 598.3,383.3 593.3,391.7 585,396.7 585,403.3 590,411.7 600,416.7"/>
<polyline class="b" points="560,383.3 566.7,380 578.3,381.7 585,377.5 594.2,375.8 598.3,382.5 593.3,390 585,396.7 583.3,406.7 590,413.3 605,417.5 606.7,416.7 626.7,408.3 630,406.7 626.7,400 628.3,394.2 629.2,390 632.5,381.7 643.3,377.5 646.7,383.3 641.7,390.8 640,400 651.7,403.3 660,409.2"/>
<polyline class="b" points="332.5,445 333.8,458.8 340,467.5 337.5,486.2 346.2,498.8 356.2,503.8 367.5,505 380,511.2 398.8,515 410,517.5 426.2,515 436.2,521.2 441.2,531.2 450,532.5 453.8,536.2 456.2,530 463.8,533.8 465,527.5 472.5,525 477.5,516.2"/>
<polyline class="b" points="477.5,516.2 490,521.2 497.5,536.2 500,547.5 503.8,555 505,570 507.5,585 505,590 500,590 498.8,600 492.5,603.8 490,608.8"/>
<polyline class="b" points="477.5,516.2 475,510 480,498.8 476.2,490 485,482.5 493.8,486.2 500,497.5 507.5,507.5 517.5,511.2 521.2,507.5 525,513.8 533.8,516.2 543.8,512.5 542.5,503.8 551.2,500 555,495 550,487.5 537.5,485 540,480 552.5,483.8 562.5,481.2"/>
<polyline class="b" points="511.7,603.3 516.7,595 523.3,605 530,611.7 536.7,615 541.7,625 548.3,635 553.3,645 556.7,648.3 563.3,646.7 571.7,645 577.5,641.7 575,633.3 575,625"/>
<polyline class="b" points="505,586.7 499.2,590 498.3,598.3 490,603.3"/>
<polyline class="b" points="659.6,409.2 667.9,413.3 680.4,407.1 682.5,400.8 688.8,392.5 695,384.2 703.3,377.9 707.5,375.8 720,374.8 724.2,373.8 732.5,371.7 738.8,367.5 745,361.2 753.3,359.2 765.8,357.1 774.2,355 776.2,348.8 772.1,340.4 774.2,334.2 780.4,327.9 782.5,321.7 788.8,321.7 790.8,330 797.1,332.1 807.5,325.8 820,324.8 826.2,319.6 828.3,315.4 836.7,312.3 842.9,312.3 847.1,319.6 851.2,323.8 849.2,330 853.3,336.2 863.8,338.3 870,338.3"/>
<polyline class="b" points="724.2,373.8 722.1,382.1 717.9,392.5 712.7,402.9 715.8,413.3 711.7,425.8 710.6,440.4 711.7,452.9 708.5,465.4 708.5,474.8"/>
<polyline class="b" points="708.5,474.8 717.9,471.7 728.3,467.5 736.7,464.4 745,461.2 757.5,457.1 765.8,452.9 769,446.7 769,444.6 765.8,434.2 770,423.8 775.2,412.3 770,402.9 765.8,398.8 770,388.3 778.3,380 781.5,371.7 778.3,363.3 774.2,362.3 778.3,355 776.2,348.8"/>
<polyline class="b" points="769,444.6 778.3,440.4 790.8,443.5 797.1,442.5 799.2,434.2 803.3,425.8 809.6,419.6 815.8,413.3 822.1,407.1 830.4,402.9 838.8,399.8 845,398.3"/>
<polyline class="b" points="797.1,443.5 808.5,446.7 799.2,452.9 789.8,463.3 797.1,470.6"/>
<polyline class="b" points="800.2,365.4 805.4,362.3 806.5,354 815.8,349.8 821,343.5 825.2,348.8 832.5,351.9 834.6,359.2 832.5,365.4 830.4,371.7 825.2,372.7 820,374.8 811.7,375.8 805.4,372.7 801.2,369.6 800.2,365.4"/>
<polyline class="b" points="832.5,365.4 838.8,364.4 840.8,371.7 844,376.9 840.8,382.1 845,388.3 840.8,393.5 834.6,392.5 826.2,389.4 824.2,384.2 826.2,377.9 825.2,372.7"/>
<polyline class="b" points="659.6,409.2 655.4,415.4 654.4,423.8 642.9,423.8 639.8,434.2 647.1,446.7 640.8,457.1 632.5,452.9 620,444.6"/>
<polyline class="b" points="654.4,423.8 667.9,430 678.3,438.3 676.2,452.9 677.3,460.2 667.9,461.2 664.8,467.5 666.9,480 661.7,490.4"/>
<polyline class="b" points="692.9,502.9 705.4,505 706.5,513.3 694,517.5 692.9,530"/>
<polyline class="b" points="992.1,137.9 985.8,148.3 977.5,156.7 973.3,165 976.5,173.3 969.2,179.6 965,190 961.9,198.3 959.8,191 952.5,194.2 942.1,202.5 931.7,208.8 926.5,214 929.6,219.2 936.9,224.4 940,227.5 946.2,224.4 940,229.6 937.9,235.8"/>
<polyline class="b" points="937.9,235.8 931.7,237.9 929.6,244.2 921.2,243.1 912.9,246.2 917.1,252.5 920.2,260.8 919.2,269.2 923.3,276.5 931.7,275.4 937.9,271.2 942.1,279.6 944.2,287.9 942.1,293.1 948.3,295.2 940,301.5 931.7,303.5 923.3,306.7 915,310.8 902.5,316 896.2,319.2 892.1,323.3 882.7,328.5 878.5,326.5 873.3,317.1 867.1,321.2 869.2,329.6 871.2,336.9 860.8,337.9 852.5,336.9 848.3,327.5 849.4,321.2 844.2,312.9 840,310.8"/>
<polyline class="b" points="937.9,235.8 948.3,236.9 953.5,242.1 954.6,248.3 962.9,253.5 973.3,252.5 983.8,253.5 987.9,258.8 1000.4,260.8 1006.7,262.9 1008.8,270.2 1019.2,273.3 1023.3,281.7 1027.5,275.4 1033.8,273.3 1037.9,281.7 1040,290 1048.3,287.9 1056.7,284.8 1067.1,283.8 1071.2,290 1079.6,292.1 1083.8,294.2"/>
<polyline class="b" points="948.3,295.2 953.5,300.4 960.8,304.6 965,302.5 969.2,300.4 971.2,308.8 975.4,317.1 977.5,327.5 981.7,335.8 983.8,343.1 977.5,348.3"/>
<polyline class="b" points="860.8,337.9 867.1,348.3 874.4,356.7 877.5,364"/>
<polyline class="b" points="707.3,475.4 712.5,483.8 715.6,492.1 720.8,496.2 727.1,508.8 739.6,517.1 754.2,520.2 768.8,520.2 771.9,527.5 783.3,533.8 785.4,537.9 797.9,540 808.3,548.3"/>
<polyline class="b" points="720.8,496.2 719.8,502.5 710.4,502.5 700,503.5"/>
<polyline class="b" points="808.3,548.3 808.3,540 808.3,531.7 809.4,523.3 808.3,516 802.1,519.2 795.8,517.1 793.8,510.8 791.7,506.7 797.9,502.5 802.1,498.3 802.1,490 806.2,485.8 810.4,490 816.7,491 820.8,487.9 825,481.7 822.9,477.5 816.7,475.4 816.7,471.2"/>
<polyline class="b" points="800,471.9 813.8,475 817.5,472.5 818.8,468.8 825,467.5 830,472.5 832.5,477.5 841.2,475 847.5,473.8 850,477.5 855,473.8 860,470 867.5,465"/>
<polyline class="b" points="813.8,475 815,480 825,480 827.5,485 840,486.2 842.5,492.5 848.8,493.1 847.5,498.8 845,503.8 850,508.8 853.8,513.1 862.5,510 867.5,512.5 868.1,517.5 862.5,518.8 856.9,516.9 856.2,520 853.8,527.5 858.8,535 861.2,541.2 867.5,542.5 875,546.2 880,550"/>
<polyline class="b" points="877.1,548.3 885.4,549.4 891.7,552.5 897.9,546.2 903.1,540 908.3,537.9 916.7,540"/>
<polyline class="b" points="903.1,540 902.1,531.7 908.3,529.6 916.7,533.8 918.8,542.1"/>
<polyline class="b" points="877.1,548.3 872.9,554.6 868.8,560.8 864.6,562.9 860.4,565 856.2,573.3 850,579.6 847.9,583.8 852.1,590 855.2,598.3 858.3,603.5 861.5,612.9 864.6,619.2 870.8,617.1 877.1,619.2 879.2,623.3 887.5,621.2 891.7,623.3"/>
<polyline class="b" points="858.3,603.5 845.8,608.8 835.4,612.9 829.2,617.1 831.2,625.4 820.8,631.7 818.8,640"/>
<polyline class="b" points="847.9,583.8 841.7,585.8 833.3,581.7 827.1,575.4 820.8,576.5 825,569.2 818.8,571.2 812.5,573.3 810.4,565 810.4,556.7 808.3,548.3"/>
<polyline class="b" points="812.5,573.3 804.2,575.4 795.8,577.5 789.6,581.7 779.2,583.8 772.9,587.9 777.1,598.3 775,606.7 768.8,612.9 766.7,621.2 770.8,631.7"/>
<polyline class="b" points="772.9,587.9 768.8,581.7 766.7,573.3 760.4,577.5 754.2,573.3 743.8,577.5 731.2,573.3 720.8,569.2 712.5,567.1 710.4,573.3 700,574.4"/>
<polyline class="b" points="673.3,524.6 678.5,527.7 685.8,530.8 694.2,532.9 695.2,520.4 694.2,516.2 704.6,514.2 700.4,506.9 694.2,503.8 704.6,502.7 719.2,501.7"/>
<polyline class="b" points="694.2,532.9 700.4,537.1 705.6,543.3 702.5,551.7 694.2,554.8 685.8,557.9 677.5,556.9 674.4,562.1 675.4,570.4 681.7,576.7 685.8,582.9 689,589.2 690,597.5 690,605.8 692.1,614.2 687.9,620.4 683.8,626.7 694.2,626.7 695.2,632.9 692.1,639.2 694.2,647.5 700.4,649.6 706.7,645.4 717.1,643.3 724.4,645.4 725.4,653.8 721.2,660 723.3,668.3 721.2,672.5"/>
<polyline class="b" points="689,589.2 692.1,576.7 700.4,573.5 712.9,573.5 712.9,568.3"/>
<polyline class="b" points="673.3,524.6 669.2,541.2 662.9,551.7 658.8,554.8 653.5,564.2 648.3,568.3 642.1,566.2 635.8,562.1 627.5,561 623.3,568.3 619.2,578.8 623.3,585 629.6,591.2 635.8,595.4 637.9,598.5 642.1,598.5 646.2,593.3 652.5,590.2 656.7,585 662.9,587.1 671.2,588.1 675.4,595.4 679.6,603.8 685.8,603.8 689,597.5"/>
<polyline class="b" points="561.9,488.1 571.2,481.9 577.5,482.9 579.6,491.2 591,495.4 601.5,500.6 600.4,509 610.8,514.2 621.2,511 629.6,509 637.9,514.2 648.3,515.2 655.6,520.4 662.9,521.5 673.3,524.6"/>
<polyline class="b" points="629.6,509 627.5,497.5 637.9,493.3 640,480.8 642.1,472.5 637.9,466.2 640,460"/>
<polyline class="b" points="635.8,595.4 631.7,603.8 635.8,610 627.5,612.1 619.2,610 617.1,603.8 610.8,607.9 602.5,610 600.4,601.7 596.2,597.5 591,599.6 592.1,605.8 585.8,610 579.6,618.3 574.4,626.7 575.4,639.2 567.1,643.3 556.7,647.5 552.5,643.3 546.2,632.9 540,624.6"/>
<polyline class="b" points="587.9,626.7 592.1,637.1 602.5,637.1 604.6,647.5 602.5,657.9 608.8,668.3 604.6,676.7 612.9,685 623.3,689.2 631.7,691.2 629.6,701.7 623.3,707.9"/>
<polyline class="b" points="604.6,676.7 612.9,672.5 623.3,674.6 631.7,668.3 640,666.2 648.3,660 652.5,664.2 660.8,668.3 669.2,662.1 677.5,660 683.8,655.8 692.1,651.7 694.2,647.5"/>
<polyline class="b" points="690,600 690.8,610 689.2,618.3 683.3,625 686.7,630 693.3,635 695,641.7 691.7,650 700,650 705,646.7 710,648.3 715,644.2 721.7,643.3 725.8,650 728.3,655 725,663.3 720.8,670 723.3,675 728.3,668.3 731.7,676.7 738.3,678.3 740,671.7 743.3,667.5 750.8,668.3 753.3,673.3 756.7,670 755,664.2 760,660.8 766.7,664.2 773.3,662.5 780,664.2 786.7,663.3 787.5,668.3 783.3,671.7 780,678.3 783.3,680.8 791.7,677.5 801.7,676.7 806.7,671.7 808.3,665 813.3,655 818.3,650 820,640 821.7,631.7 830,625 828.3,616.7 835,611.7 843.3,610 851.7,605 858.3,600"/>
<polyline class="b" points="806.7,672.5 816.7,677.5 825,681.7 826.7,690.8 830.8,700"/>
<polyline class="b" points="773.3,662.5 774.2,653.3 777.5,647.5 775,638.3 771.7,631.7 770.8,623.3 768.3,616.7 771.7,610 776.7,605 778.3,600"/>
<polyline class="b" points="738.3,678.3 736.7,685 733.3,693.3 728.3,700 726.7,710 723.3,716.7 716.7,720 715,726.7 708.3,730 706.7,736.7 700,740 698.3,743.3"/>
<polygon class="b" points="47.5,377.5 55,363.8 70,356.2 85,352.5 87.5,357.5 100,356.2 106.2,345 122.5,343.8 131.2,336.2 145,331.2 165,322.5 168.8,316.2 167.5,308.8 173.8,303.8 177.5,296.2 172.5,280 170,270 162,264.5 175,260 195,255 200,257.5 210,257.5 210,252.5 205,250 206.2,240 212.5,231.2 218.8,217.5 232.5,221.2 252.5,223.8 257.5,220 266.2,216.2 263.8,197.5 267.5,192.5 280,191.2 286.2,183.8 287.5,178.8 303.8,177.5 305,183.8 317.5,192.5 325,200 342.5,203.8 351.2,207.5 353.8,217.5 361.2,226.2 360,235 360,242.5 355,248.8 358.8,257.5 375,261.2 400,262 413.8,266.2 430,276.2 440,277.5 440,282.5 445,287.5 450,298.8 457.5,305 457.5,308.2 472.5,307.5 490,310 515,312 530,309.5 550,311.2 557.5,315 560,319.5 575,321.2 585,325.5 600,327 603.8,327 605,330 612.5,331.2 616.2,327.5 642.5,318 655,314.5 680,314.2 695,311.2 707.5,309.2 713.8,303.8 725,295 737,288.8 735,283.8 727.5,273.8 737.5,260 746.2,261.2 755,266.2 766.2,267 777.5,262.5 787.5,253.8 803.8,252 815,246.2 822.5,236.2 837.5,232.5 847.5,228.8 864,227.2 878.8,228 880,225.2 876,218.8 868,210.8 858.8,204 853.2,200 845,200 835,207.5 820,202.5 810,206.2 801.8,198.8 807.5,195 807.5,190 815,175 822.5,162.5 840,167.5 855,162.5 860,161.2 867.5,152.5 872.5,143.8 881.2,131.2 890,123.8 895,113.8 892.5,108.8 882.5,103.8 897.5,93.8 910,91.2 940,88 950,89.5 960,93 975,95 985,101.2 992.5,107.5 997.5,117.5 1003.8,130 1007.5,140 1013.3,148 1017.3,156 1018.7,164 1022.7,168 1032,168.7 1040,169.3 1046.7,172.7 1052,172 1057.3,176 1062.7,180 1068,183.3 1073.3,184 1072.7,189.3 1076,193.3 1074.7,198.7 1078.7,205.3 1082.7,206.7 1093.3,206.7 1105.3,206 1109.3,202.7 1117.3,198.7 1128,196 1140,192.7 1152.7,192 1145.3,197.3 1144,202.7 1147.3,206 1144,209.3 1137.3,213.3 1134.7,220 1133.3,228 1132,234.7 1128,240 1125.3,249.3 1118.7,253.3 1117.3,258.7 1114.7,262 1106.7,258.7 1096,256 1086.7,262.7 1080,265.3 1082.7,273.3 1084,284 1084,293.3 1082.5,305 1072.5,315 1065,307.5 1060,303.8 1057.5,310 1052.5,320 1040,322.5 1030,323.8 1030,323.8 1030,333.8 1017.5,335 1006.2,328.8 1000,335 992.5,342.5 982.5,348.8 970,356.2 956.2,368.8 953.3,369.3 946.7,368.7 940,371.3 933.3,374 926.7,377.3 920,381.3 914.7,383.3 909.3,386 905.3,388.7 902.7,390 901.3,387.3 905.3,384 910.7,382.7 911.3,380 906.7,376.7 904,374 908,370 912,366 916,361.3 920,356.7 922,354 920,350 916,347.3 909.3,346.7 902.7,347.3 898.7,350 896,354 892,358 886.7,361.3 880,363.3 874.7,366.7 870.7,370 868,374 865.3,378 860,382 854.7,386 850.7,383.3 846.7,381.3 844,383.3 841.3,388.7 840,392.7 842.7,396 845.3,398 849.3,402 856,402.7 862.7,402.7 865.3,407.3 868.7,409.3 868,412 864,414 863.3,417.3 866.7,420.7 870.7,422.7 877.3,422 880,418.7 885.3,415.3 886.7,411.3 892,410 896,408.7 898.7,409.3 902.7,412.7 906.7,413.3 910.7,415.3 916,416 920,414.7 925.3,417.3 930.7,418 928,422 926,426.7 920,428.7 914.7,429.3 910.7,431.3 906.7,432 901.3,434 897.3,436.7 894.7,440.7 890.7,443.3 886.7,446 884,450 880,452.7 876,456 874,459.3 872,463.3 869.3,466 872,470 876,473.3 880,476 884,478.7 887.3,480.7 889.3,490 893.3,493.3 898.3,505 900,515 906.7,518.3 908,520 910,524 914,527 917,532 917,538 920,541.5 917,544 914,541.5 916,548 918,554 912,553 908,555 902,557.5 906,560 910,564 914,568 917,572 916,576 917,580 918,585 914,588 912,592 912,597 910,600 908,603 904,607 902,610 899,613 896,616 894,620 892,624 890,629 887,632 884,635 884,640 880,638.3 876.7,645 875,655 876.7,660 870,663.3 866.7,663.3 861.7,668.3 856.7,675 850,680 846.7,685 841.7,691.7 835,700 830,701.7 823.3,706.7 818.3,711.7 811.7,713.3 805,715 798.3,717.5 791.7,717.5 785,721.7 778.3,725 773.3,726.7 768.3,720 765,730 758.3,733.3 753.3,738.3 746.7,739.2 740,736.7 750,739.2 743.3,736.7 733.3,740.8 725,743.3 716.7,745 712.5,749.2 706.7,753.3 709.2,757.5 713.3,764.2 710,767.5 700,766.7 697.5,758.3 696.7,750.8 699.2,745 696.7,742.5 686.7,743.3 683.3,740 676.7,738.3 670,742.5 663.3,740 656.7,740 648.3,735 642.5,731.7 640.8,723.3 645,717.5 643.3,714.2 635,713.3 626.7,711.7 622.5,707.5 621.7,705 616.7,706.7 611.7,710 606.7,714.2 601.7,717.5 596.7,715.8 594.2,721.7 590,716.7 586.7,720 582.5,716.7 578.3,722.5 573.3,719.2 566.7,716.7 560,722.5 552.5,723.3 550.8,726.7 552.5,733.3 555,740 555,748.3 550.8,748.3 545.8,749.2 545,743.3 542.5,736.7 538.3,736.7 533.3,742.5 526.7,741.7 522.5,736.7 523.3,731.7 516.7,730 508.3,729.2 511.7,716.7 513.3,710 503.3,706.7 500.8,696.7 498.3,688.3 488.3,690 479.2,693.3 483.3,686.7 480,681.7 479.2,675 485,666.7 490,660 497.5,653.3 499.2,645 500,636.7 499.5,647.5 500,632.5 498.8,620 493.8,617.5 490,608.8 485,602.5 480,598.8 475,606.2 470,612.5 460,606.2 447.5,603.8 440,607.5 430,615 417.5,621.2 410,630 395,631.2 382.5,632.5 380,623.8 375,620 372.5,613.8 366.2,610 356.2,607.5 347.5,605 337.5,606.2 330,612.5 327.5,622.5 323.8,623.8 322.5,615 318.8,607.5 305,612.5 292.5,612.5 281.2,607.5 272.5,611.2 266.2,602.5 257.5,603 255,597.5 247.5,595 240,588.8 235,582.5 227.5,585 223.8,578.8 215,573.8 205,567.5 200,562.5 190,560 185,567.5 176.2,561.2 165,556.2 155,548.8 145,546.2 141.2,536.2 137.5,527.5 135,517.5 141.2,515 145,520 150,515 147.5,502.5 141.2,496.2 140,486.2 146.2,479.5 133.8,473.8 130,466.2 128.8,457 115,455 102.5,450 92.5,445 90,432.5 80,426.2 65,422.5 76.2,417.5 72.5,410 71.2,400 72.5,407.5 70,395 53.8,393.8 52.5,385"/>
<polygon class="b" points="910,665 916.2,670 915,682.5 911.2,697.5 906.2,710 901.2,720 898.8,733.8 895.5,734.2 892.5,725 886.2,720 883,710 885,700 892.5,685 900,672.5"/>
<polygon class="b" points="690,775 705,772.5 717.5,771.2 722,777.5 720,785 713.8,792.5 711.2,801.2 695,810.8 683.8,807.5 677.5,803.8 677.5,786.2 683.8,780"/>
<polyline class="b" points="878.8,800 872.5,813.8"/>
<polyline class="b" points="882.5,792.2 872.5,814.2"/>
<polyline class="b" points="863.2,936.2 860,947.5 855.5,959.2"/>
<polyline class="b" points="814.5,1018.2 801.2,1035.5"/>
<polyline class="b" points="748,1060 749,1066.2 750,1072.5"/>
<polyline class="b" points="670.5,1037 669.5,1047.5 671.8,1059.2"/>
<polyline class="b" points="708,931.2 707,943.8 703,952.5"/>
<polyline class="b" points="689.2,850 696.2,860 699.5,872.5"/>
<polyline class="b" points="916.7,738 902.5,756.3"/>
<polyline class="b" style="stroke-width:2" points="865,853 865,875"/>
<polyline class="b" style="stroke-width:2" points="932.5,679.2 926.7,702.5"/>
<g fill="#5a5a5a"><rect x="727.9" y="831.6" width="1.8" height="1.8"/><rect x="742.1" y="834.1" width="1.8" height="1.8"/><rect x="742.9" y="837.9" width="1.8" height="1.8"/><rect x="730.3" y="842.9" width="1.8" height="1.8"/><rect x="732.9" y="845.3" width="1.8" height="1.8"/><rect x="729.1" y="847.9" width="1.8" height="1.8"/><rect x="737.9" y="846.6" width="1.8" height="1.8"/><rect x="746.6" y="844.1" width="1.8" height="1.8"/><rect x="749.1" y="846.6" width="1.8" height="1.8"/><rect x="745.3" y="849.1" width="1.8" height="1.8"/><rect x="731.6" y="850.3" width="1.8" height="1.8"/><rect x="734.1" y="852.9" width="1.8" height="1.8"/><rect x="746.6" y="852.9" width="1.8" height="1.8"/><rect x="741.1" y="859.9" width="1.8" height="1.8"/><rect x="775.3" y="852.9" width="1.8" height="1.8"/><rect x="779.1" y="852.3" width="1.8" height="1.8"/><rect x="782.9" y="851.6" width="1.8" height="1.8"/><rect x="786.6" y="850.3" width="1.8" height="1.8"/><rect x="789.1" y="852.9" width="1.8" height="1.8"/><rect x="772.9" y="857.9" width="1.8" height="1.8"/><rect x="781.6" y="861.6" width="1.8" height="1.8"/><rect x="784.1" y="861.1" width="1.8" height="1.8"/><rect x="770.3" y="864.6" width="1.8" height="1.8"/><rect x="822.1" y="846.6" width="1.8" height="1.8"/><rect x="841.1" y="871.1" width="1.8" height="1.8"/><rect x="798.3" y="895.9" width="1.8" height="1.8"/><rect x="785.3" y="946.1" width="1.8" height="1.8"/><rect x="786.6" y="947.9" width="1.8" height="1.8"/><rect x="822.9" y="946.6" width="1.8" height="1.8"/><rect x="775.3" y="957.9" width="1.8" height="1.8"/><rect x="782.9" y="959.1" width="1.8" height="1.8"/><rect x="786.6" y="955.3" width="1.8" height="1.8"/><rect x="789.1" y="956.6" width="1.8" height="1.8"/><rect x="790.3" y="959.1" width="1.8" height="1.8"/><rect x="831.6" y="955.3" width="1.8" height="1.8"/><rect x="839.1" y="956.1" width="1.8" height="1.8"/><rect x="842.1" y="960.3" width="1.8" height="1.8"/><rect x="831.6" y="961.6" width="1.8" height="1.8"/><rect x="834.1" y="962.9" width="1.8" height="1.8"/><rect x="765.3" y="971.1" width="1.8" height="1.8"/><rect x="777.9" y="971.1" width="1.8" height="1.8"/><rect x="786.6" y="970.3" width="1.8" height="1.8"/><rect x="796.6" y="971.6" width="1.8" height="1.8"/><rect x="805.3" y="966.6" width="1.8" height="1.8"/><rect x="817.9" y="969.1" width="1.8" height="1.8"/><rect x="820.3" y="967.1" width="1.8" height="1.8"/><rect x="824.1" y="966.1" width="1.8" height="1.8"/><rect x="832.9" y="970.3" width="1.8" height="1.8"/><rect x="770.3" y="975.3" width="1.8" height="1.8"/><rect x="785.3" y="977.9" width="1.8" height="1.8"/><rect x="800.3" y="977.9" width="1.8" height="1.8"/><rect x="810.3" y="975.3" width="1.8" height="1.8"/><rect x="833.6" y="975.3" width="1.8" height="1.8"/><rect x="785.3" y="982.9" width="1.8" height="1.8"/><rect x="806.6" y="982.9" width="1.8" height="1.8"/><rect x="811.6" y="985.3" width="1.8" height="1.8"/><rect x="817.9" y="981.6" width="1.8" height="1.8"/><rect x="746.6" y="986.1" width="1.8" height="1.8"/><rect x="776.6" y="989.1" width="1.8" height="1.8"/><rect x="799.1" y="989.1" width="1.8" height="1.8"/><rect x="809.1" y="991.6" width="1.8" height="1.8"/><rect x="819.1" y="994.1" width="1.8" height="1.8"/><rect x="822.9" y="996.6" width="1.8" height="1.8"/><rect x="766.6" y="992.9" width="1.8" height="1.8"/><rect x="767.9" y="997.9" width="1.8" height="1.8"/><rect x="772.9" y="1000.3" width="1.8" height="1.8"/><rect x="776.6" y="1001.6" width="1.8" height="1.8"/><rect x="784.1" y="999.1" width="1.8" height="1.8"/><rect x="814.1" y="999.1" width="1.8" height="1.8"/><rect x="741.6" y="999.6" width="1.8" height="1.8"/><rect x="746.6" y="999.1" width="1.8" height="1.8"/><rect x="752.9" y="999.1" width="1.8" height="1.8"/><rect x="727.9" y="1006.1" width="1.8" height="1.8"/><rect x="732.9" y="1004.1" width="1.8" height="1.8"/><rect x="754.1" y="1008.6" width="1.8" height="1.8"/><rect x="795.3" y="1007.9" width="1.8" height="1.8"/><rect x="801.6" y="1006.6" width="1.8" height="1.8"/><rect x="795.3" y="1010.3" width="1.8" height="1.8"/><rect x="760.3" y="1012.9" width="1.8" height="1.8"/><rect x="761.6" y="1015.3" width="1.8" height="1.8"/><rect x="736.6" y="1016.1" width="1.8" height="1.8"/><rect x="730.3" y="1020.3" width="1.8" height="1.8"/><rect x="729.1" y="1026.6" width="1.8" height="1.8"/><rect x="732.9" y="1024.1" width="1.8" height="1.8"/><rect x="754.1" y="1020.3" width="1.8" height="1.8"/><rect x="771.6" y="1017.9" width="1.8" height="1.8"/><rect x="782.9" y="1014.1" width="1.8" height="1.8"/><rect x="787.9" y="1015.3" width="1.8" height="1.8"/><rect x="789.1" y="1019.1" width="1.8" height="1.8"/><rect x="785.3" y="1025.3" width="1.8" height="1.8"/><rect x="790.3" y="1027.1" width="1.8" height="1.8"/><rect x="770.3" y="1030.3" width="1.8" height="1.8"/><rect x="788.3" y="1033.3" width="1.8" height="1.8"/><rect x="765.9" y="1039.1" width="1.8" height="1.8"/><rect x="759.9" y="1052.1" width="1.8" height="1.8"/><rect x="747.9" y="1076.6" width="1.8" height="1.8"/><rect x="752.9" y="1077.9" width="1.8" height="1.8"/><rect x="701.6" y="1019.1" width="1.8" height="1.8"/><rect x="711.1" y="1014.6" width="1.8" height="1.8"/><rect x="692.9" y="1030.3" width="1.8" height="1.8"/><rect x="697.9" y="1027.1" width="1.8" height="1.8"/><rect x="873.3" y="698.6" width="1.8" height="1.8"/><rect x="874.4" y="699.6" width="1.8" height="1.8"/><rect x="870.8" y="706.6" width="1.8" height="1.8"/><rect x="872.4" y="703.8" width="1.8" height="1.8"/><rect x="808.3" y="750.8" width="1.8" height="1.8"/><rect x="809.1" y="752.1" width="1.8" height="1.8"/><rect x="823.8" y="757.8" width="1.8" height="1.8"/><rect x="824.9" y="759.1" width="1.8" height="1.8"/><rect x="755.3" y="782.4" width="1.8" height="1.8"/><rect x="770.8" y="788.3" width="1.8" height="1.8"/><rect x="908.3" y="717.9" width="1.8" height="1.8"/><rect x="908.8" y="730.4" width="1.8" height="1.8"/><rect x="769.1" y="731.6" width="1.8" height="1.8"/><rect x="777.4" y="730.8" width="1.8" height="1.8"/><rect x="914.9" y="562.4" width="1.8" height="1.8"/><rect x="917.4" y="561.6" width="1.8" height="1.8"/><rect x="919.9" y="563.3" width="1.8" height="1.8"/><rect x="916.6" y="565.8" width="1.8" height="1.8"/><rect x="919.1" y="567.4" width="1.8" height="1.8"/><rect x="921.6" y="566.6" width="1.8" height="1.8"/><rect x="924.1" y="569.1" width="1.8" height="1.8"/><rect x="917.4" y="569.9" width="1.8" height="1.8"/><rect x="919.9" y="571.6" width="1.8" height="1.8"/><rect x="922.4" y="572.4" width="1.8" height="1.8"/><rect x="915.8" y="568.3" width="1.8" height="1.8"/><rect x="924.9" y="553.3" width="1.8" height="1.8"/><rect x="927.4" y="553.8" width="1.8" height="1.8"/><rect x="930.8" y="553.3" width="1.8" height="1.8"/><rect x="922.4" y="557.4" width="1.8" height="1.8"/><rect x="919.1" y="559.1" width="1.8" height="1.8"/><rect x="914.9" y="594.1" width="1.8" height="1.8"/><rect x="915.8" y="599.1" width="1.8" height="1.8"/><rect x="900.8" y="608.3" width="1.8" height="1.8"/><rect x="901.6" y="612.4" width="1.8" height="1.8"/><rect x="902.4" y="620.8" width="1.8" height="1.8"/><rect x="875.8" y="634.9" width="1.8" height="1.8"/><rect x="878.3" y="635.8" width="1.8" height="1.8"/><rect x="880.8" y="636.6" width="1.8" height="1.8"/><rect x="882.4" y="634.9" width="1.8" height="1.8"/><rect x="874.1" y="636.6" width="1.8" height="1.8"/><rect x="869.1" y="659.1" width="1.8" height="1.8"/><rect x="871.6" y="658.3" width="1.8" height="1.8"/><rect x="874.1" y="659.9" width="1.8" height="1.8"/><rect x="875.8" y="661.6" width="1.8" height="1.8"/><rect x="867.4" y="662.4" width="1.8" height="1.8"/><rect x="865.8" y="665.8" width="1.8" height="1.8"/><rect x="863.3" y="668.3" width="1.8" height="1.8"/><rect x="947.4" y="650.8" width="1.8" height="1.8"/><rect x="942.4" y="654.9" width="1.8" height="1.8"/><rect x="919.1" y="659.1" width="1.8" height="1.8"/><rect x="924.1" y="379.1" width="1.8" height="1.8"/><rect x="926.6" y="378.3" width="1.8" height="1.8"/><rect x="929.1" y="379.9" width="1.8" height="1.8"/><rect x="938.3" y="382.4" width="1.8" height="1.8"/><rect x="930.8" y="377.4" width="1.8" height="1.8"/><rect x="895.8" y="397.4" width="1.8" height="1.8"/><rect x="894.9" y="399.1" width="1.8" height="1.8"/><rect x="892.4" y="404.9" width="1.8" height="1.8"/><rect x="891.6" y="406.6" width="1.8" height="1.8"/></g>
<polygon class="c2" stroke="#6e6e6e" stroke-width="1" points="771.2,1026.2 776.2,1021.2 782.5,1018.8 784.5,1021.2 780,1025.8 775,1027.5"/>
<polygon class="c7" stroke="#6e6e6e" stroke-width="2.2" points="916.5,568 919.5,565.5 923.5,566.2 926,569.5 924.8,572.8 921.2,575 918,572.8"/>
<text x="50" y="108.5" font-size="52" style="font-family:'Liberation Sans','Noto Serif CJK SC',serif">父系：</text>
<text x="218.7" y="107" font-size="52">O-Z26108 (</text>
<text x="484" y="108.5" font-size="52" style="font-family:'Liberation Sans','Noto Serif CJK SC',serif">含下游</text>
<text x="642" y="107" font-size="52">)</text>
<text x="54.6" y="786.2" font-size="36.6" style="font-family:'Liberation Sans','Noto Serif CJK SC',serif">相对占比</text>
<rect x="58" y="805.4" width="33" height="34" class="c1" shape-rendering="crispEdges"/>
<rect x="58" y="839" width="33" height="34" class="c2" shape-rendering="crispEdges"/>
<rect x="58" y="872.6" width="33" height="34" class="c3" shape-rendering="crispEdges"/>
<rect x="58" y="906.2" width="33" height="34" class="c4" shape-rendering="crispEdges"/>
<rect x="58" y="939.8" width="33" height="34" class="c5" shape-rendering="crispEdges"/>
<rect x="58" y="973.4" width="33" height="34" class="c6" shape-rendering="crispEdges"/>
<rect x="58" y="1007" width="33" height="34" class="c7" shape-rendering="crispEdges"/>
<rect x="58" y="1040.6" width="33" height="34" class="c8" shape-rendering="crispEdges"/>
<rect x="58" y="1074.2" width="33" height="34" class="c9" shape-rendering="crispEdges"/>
<rect x="58" y="1107.8" width="33" height="33.6" class="c10" shape-rendering="crispEdges"/>
<text x="99.8" y="833.6" font-size="28" letter-spacing="0.27">0.06% - 0.39%</text>
<text x="99.8" y="867.15" font-size="28" letter-spacing="0.27">0.39% - 0.61%</text>
<text x="99.8" y="900.7" font-size="28" letter-spacing="0.27">0.61% - 0.83%</text>
<text x="99.8" y="934.25" font-size="28" letter-spacing="0.27">0.83% - 1.08%</text>
<text x="99.8" y="967.8" font-size="28" letter-spacing="0.27">1.08% - 1.32%</text>
<text x="99.8" y="1001.35" font-size="28" letter-spacing="0.27">1.32% - 1.55%</text>
<text x="99.8" y="1034.9" font-size="28" letter-spacing="0.27">1.55% - 1.88%</text>
<text x="99.8" y="1068.45" font-size="28" letter-spacing="0.27">1.88% - 2.55%</text>
<text x="99.8" y="1102" font-size="28" letter-spacing="0.27">2.55% - 3.70%</text>
<text x="99.8" y="1135.55" font-size="28" letter-spacing="0.27">3.70% - 11.11%</text>
<text x="946" y="1137" font-size="28" style="fill:#222;font-family:'Liberation Sans','Noto Serif CJK SC',serif">作者</text>
<text x="1002" y="1138" font-size="28" style="fill:#222">:O1a</text>
<text x="1061" y="1137" font-size="28" style="fill:#222;font-family:'Liberation Sans','Noto Serif CJK SC',serif">溯源群</text>
</svg></body></html>
